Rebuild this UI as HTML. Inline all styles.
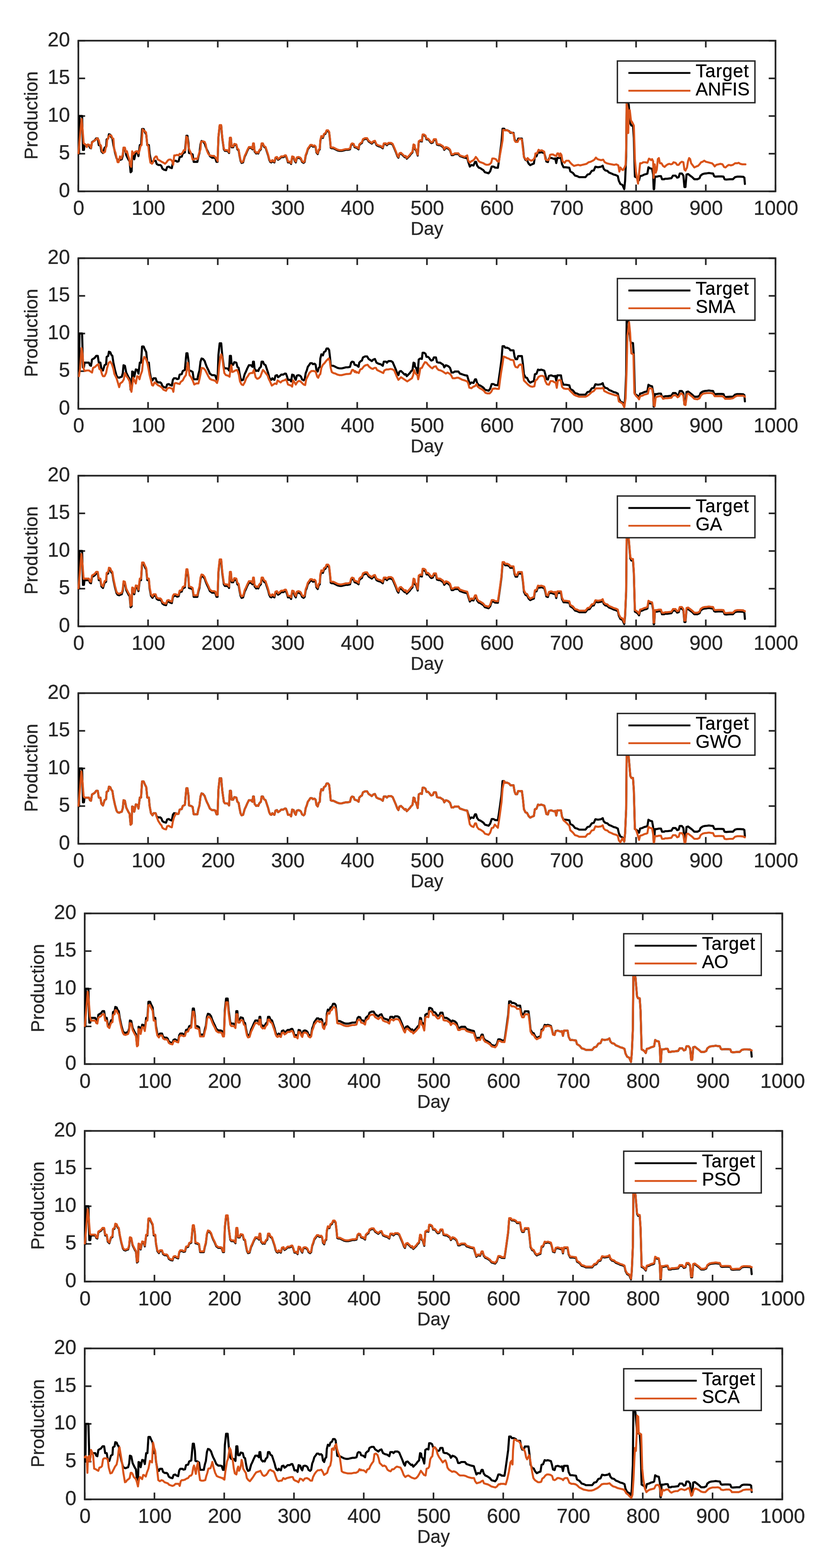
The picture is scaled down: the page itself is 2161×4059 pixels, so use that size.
<!DOCTYPE html><html><head><meta charset="utf-8"><style>html,body{margin:0;padding:0;background:#fff}svg{display:block}text{font-family:"Liberation Sans",Arial,Helvetica,sans-serif;stroke:currentColor;stroke-width:0.45px}</style></head><body>
<svg width="2161" height="4059" viewBox="0 0 2161 4059">
<rect width="2161" height="4059" fill="#fff"/>
<g><path d="M202.8 495.3V477.8M202.8 105.3V122.8M383.2 495.3V477.8M383.2 105.3V122.8M563.6 495.3V477.8M563.6 105.3V122.8M744.1 495.3V477.8M744.1 105.3V122.8M924.5 495.3V477.8M924.5 105.3V122.8M1104.9 495.3V477.8M1104.9 105.3V122.8M1285.3 495.3V477.8M1285.3 105.3V122.8M1465.7 495.3V477.8M1465.7 105.3V122.8M1646.2 495.3V477.8M1646.2 105.3V122.8M1826.6 495.3V477.8M1826.6 105.3V122.8M2007.0 495.3V477.8M2007.0 105.3V122.8M202.8 495.3H220.3M2007.0 495.3H1989.5M202.8 397.8H220.3M2007.0 397.8H1989.5M202.8 300.3H220.3M2007.0 300.3H1989.5M202.8 202.8H220.3M2007.0 202.8H1989.5M202.8 105.3H220.3M2007.0 105.3H1989.5" stroke="#262626" stroke-width="4.2" fill="none"/><rect x="202.8" y="105.3" width="1804.2" height="390.0" fill="none" stroke="#262626" stroke-width="4.4"/><path d="M204.6 397.8L205.7 300.3L212.5 300.3L214.7 388.1L217.2 388.1L218.8 375.8L230.1 375.8L232.8 382.5L235.5 383.9L238.2 367.7L244.9 363.6L249.0 358.2L253.0 358.2L255.7 375.8L259.8 375.8L262.5 392.0L266.5 396.1L270.6 382.5L274.6 379.8L276.0 360.9L280.0 358.2L281.9 347.4L285.4 348.8L288.1 355.5L290.8 358.2L293.5 375.8L297.6 394.7L301.6 409.6L304.3 413.6L308.4 415.0L311.1 413.6L315.1 412.3L317.8 402.8L319.7 382.5L323.2 383.9L326.7 401.5L330.0 408.2L332.7 413.6L335.4 417.7L338.0 446.0L340.7 443.3L342.1 398.8L344.8 400.1L347.5 412.3L351.5 393.4L355.6 394.7L358.3 404.2L361.8 375.8L365.0 375.8L367.7 333.9L371.8 333.9L374.5 340.7L378.5 348.8L381.2 375.8L385.3 375.8L387.2 397.4L390.7 416.3L394.7 421.7L397.4 416.3L402.8 416.3L405.5 424.4L409.6 427.1L415.0 427.1L417.7 429.8L420.4 436.6L424.4 439.3L429.8 440.6L432.5 432.5L436.6 431.2L440.6 433.9L444.7 435.2L447.4 420.4L450.1 416.3L455.5 416.3L458.2 418.5L462.2 417.7L464.9 406.9L470.3 405.5L473.0 397.4L478.4 394.7L481.1 365.0L482.4 351.5L485.1 351.5L487.8 370.4L489.2 396.1L494.6 397.4L498.6 400.1L501.3 419.0L505.4 419.0L510.8 419.0L513.5 405.5L516.2 396.1L518.9 373.1L521.6 365.0L525.6 366.3L529.7 371.7L532.4 379.8L535.1 386.6L539.1 394.7L543.2 404.2L548.6 408.2L554.0 408.2L557.7 409.6L558.0 412.3L560.4 419.0L562.1 416.3L563.1 419.0L565.3 355.5L568.5 325.8L572.5 325.8L575.2 356.9L579.3 386.6L582.0 390.6L587.4 390.6L590.1 392.0L592.8 396.1L594.9 358.2L597.6 358.2L599.5 381.2L603.6 381.2L606.3 374.4L611.7 375.8L614.4 386.6L617.6 389.3L619.8 402.8L622.5 416.3L625.2 421.7L629.2 420.4L633.3 405.5L636.0 400.1L640.0 390.6L644.1 382.5L649.5 382.5L653.5 386.6L654.9 373.1L657.0 373.1L658.9 392.0L663.0 397.4L665.7 396.1L668.4 397.4L671.1 390.6L675.1 386.6L677.0 373.1L680.5 373.1L683.2 379.8L687.3 382.5L691.3 394.7L694.0 402.8L696.7 413.6L699.4 419.0L702.1 420.4L704.8 416.3L707.5 419.0L710.2 420.4L712.9 409.6L716.9 408.2L719.6 413.6L723.7 410.9L727.7 406.9L733.1 406.9L737.2 404.2L739.9 404.2L742.6 410.9L745.3 420.4L750.7 420.4L753.4 424.4L756.1 406.9L760.1 408.2L762.8 416.3L765.5 420.4L768.2 409.6L772.3 408.2L776.3 409.6L779.0 412.3L781.7 419.0L785.8 421.7L788.5 419.0L791.2 402.8L793.9 396.1L796.6 386.6L800.6 381.2L803.3 377.1L807.4 377.1L810.1 379.8L814.1 378.5L816.8 381.2L819.0 394.7L822.2 398.8L824.9 389.3L827.6 386.6L829.0 365.0L831.7 354.2L835.7 356.9L838.4 348.8L842.4 346.1L845.1 339.3L849.2 339.3L851.9 343.4L854.1 362.3L855.9 382.5L858.6 383.9L862.7 383.9L868.1 386.6L873.5 389.3L878.9 390.6L884.3 390.6L889.7 389.3L895.1 387.9L900.5 387.9L905.9 386.6L908.6 375.8L911.3 373.1L915.3 374.4L917.7 381.2L918.0 381.2L922.1 382.5L923.1 382.5L928.0 386.6L929.8 375.8L933.9 371.7L936.6 370.4L939.3 362.3L944.7 359.6L950.1 359.6L954.1 366.3L958.2 369.0L962.2 371.7L966.3 367.7L970.3 366.3L974.4 375.8L979.8 378.5L985.2 379.8L990.6 383.9L993.3 373.1L998.7 373.1L1001.4 375.8L1005.4 371.7L1012.2 371.7L1016.2 374.4L1020.3 383.9L1024.3 393.4L1028.4 404.2L1031.1 408.2L1033.8 398.8L1037.8 397.4L1041.9 401.5L1044.6 404.2L1047.3 406.9L1050.0 405.5L1052.7 410.9L1055.4 408.2L1060.7 402.8L1063.4 398.8L1067.5 394.7L1070.2 375.8L1072.9 377.1L1074.2 386.6L1076.9 389.3L1081.0 402.8L1083.7 367.7L1087.7 365.0L1091.8 366.3L1093.7 350.1L1097.2 350.1L1101.2 352.8L1103.9 360.9L1108.0 360.9L1110.7 363.6L1113.4 367.7L1116.1 370.4L1120.1 369.0L1122.8 362.3L1128.2 362.3L1130.9 374.4L1135.0 375.8L1139.0 375.8L1143.1 378.5L1147.1 381.2L1149.8 387.9L1153.9 382.5L1157.9 383.9L1160.6 385.2L1164.7 389.3L1168.7 401.5L1172.8 401.5L1176.8 398.8L1182.2 398.8L1186.3 398.8L1190.3 404.2L1194.4 405.5L1198.4 406.9L1202.4 408.2L1209.2 409.6L1211.9 419.0L1215.9 431.2L1220.0 427.1L1225.4 428.5L1229.4 419.0L1232.1 419.0L1234.8 428.5L1238.9 433.9L1242.9 435.2L1247.0 437.9L1251.0 440.6L1255.1 446.0L1260.5 447.4L1264.5 448.7L1268.6 443.3L1272.6 431.2L1276.7 431.2L1280.4 433.0L1280.7 433.9L1288.5 434.3L1291.2 416.8L1293.9 397.9L1297.9 368.2L1300.6 333.1L1304.7 333.1L1307.4 337.1L1312.8 337.1L1318.2 339.8L1320.9 343.9L1329.0 343.9L1331.7 360.1L1334.4 366.8L1338.4 366.8L1341.1 358.7L1350.6 358.7L1353.3 379.0L1356.0 406.0L1360.0 414.1L1364.1 415.4L1368.1 423.5L1372.2 427.6L1377.6 424.9L1381.6 423.5L1384.3 406.0L1388.4 404.6L1392.4 393.8L1396.5 395.2L1400.5 393.8L1404.6 395.2L1408.6 396.5L1411.3 406.0L1414.0 418.1L1418.0 419.5L1420.7 410.0L1426.1 408.7L1430.2 410.0L1434.2 411.4L1436.9 410.0L1439.6 422.2L1442.3 408.7L1446.4 408.7L1451.8 408.7L1454.5 424.9L1458.5 433.0L1463.9 433.0L1473.4 434.3L1476.1 443.8L1482.8 447.8L1488.2 454.6L1493.6 455.9L1499.0 458.6L1507.1 458.6L1515.2 458.6L1520.6 451.9L1526.0 450.5L1531.4 442.4L1536.8 441.1L1540.9 431.6L1547.6 433.0L1555.7 431.6L1559.8 428.9L1562.4 437.0L1566.5 441.1L1571.9 442.4L1575.9 446.5L1582.7 449.2L1588.1 451.9L1593.5 453.2L1598.9 455.9L1601.6 468.1L1605.6 476.2L1611.0 478.9L1615.6 489.7L1617.8 468.1L1620.5 406.0L1621.8 262.9L1624.5 261.5L1627.2 271.0L1631.3 319.6L1634.0 325.0L1635.0 325.0L1638.0 325.0L1638.2 325.0L1640.4 357.4L1643.1 457.3L1645.8 458.6L1649.8 461.3L1653.9 466.7L1656.6 455.9L1662.0 454.6L1667.4 451.9L1672.8 450.5L1675.5 449.2L1678.2 433.0L1682.2 435.7L1687.6 437.0L1690.3 451.9L1691.7 489.7L1693.0 489.7L1694.9 457.3L1699.8 457.3L1705.2 455.9L1710.6 455.9L1713.3 464.0L1718.7 464.0L1721.4 462.7L1726.8 462.7L1737.6 461.3L1741.6 454.6L1748.4 454.6L1752.4 460.0L1756.5 458.6L1759.2 449.2L1764.6 449.2L1768.6 454.6L1771.3 484.3L1774.0 484.3L1776.7 451.9L1780.7 450.5L1786.1 454.6L1791.5 458.6L1796.9 464.0L1805.0 464.0L1810.4 461.3L1813.1 454.6L1818.5 450.5L1823.9 449.2L1829.3 448.7L1834.7 447.8L1840.1 448.7L1845.5 449.2L1848.2 455.9L1850.9 457.3L1859.0 456.8L1867.1 456.8L1872.5 457.3L1875.2 464.0L1879.3 464.9L1888.7 464.0L1896.8 464.0L1902.2 458.6L1907.6 457.3L1915.7 457.3L1923.8 457.8L1926.5 460.0L1927.8 476.2" stroke="#000" stroke-width="5.4" fill="none" stroke-linejoin="round" stroke-linecap="round"/><path d="M203.1 396.9L207.1 351.0L211.2 307.8L213.9 337.5L216.6 371.2L219.3 372.6L222.0 375.3L224.7 380.7L227.4 373.9L231.4 375.3L235.5 383.4L238.2 368.5L242.2 365.8L247.6 361.8L251.7 357.7L255.7 363.1L258.4 375.3L261.1 376.6L263.8 391.5L267.9 395.5L271.9 392.8L273.3 383.4L276.0 378.0L277.3 363.1L281.4 353.7L284.1 349.6L288.1 351.0L290.8 357.7L293.5 359.1L295.4 386.1L298.9 395.5L301.6 407.7L304.3 419.8L307.0 419.8L310.5 405.0L313.8 410.4L317.8 399.6L319.7 382.0L323.2 382.0L325.9 394.2L328.6 391.5L331.3 402.3L334.0 410.4L336.7 426.5L339.4 431.9L342.1 391.5L344.8 399.6L347.5 395.5L350.2 392.8L352.9 391.5L355.6 391.5L358.3 396.9L361.0 390.1L363.7 378.0L366.4 375.3L369.1 334.8L371.8 337.5L375.3 340.2L378.0 342.9L381.2 375.3L383.9 378.0L386.6 405.0L389.3 421.1L393.4 423.8L396.1 419.8L398.8 410.4L402.8 405.0L405.5 405.0L408.2 413.0L413.6 415.7L417.7 418.4L423.1 421.1L427.1 423.8L431.2 419.8L433.9 415.7L437.9 413.0L442.0 413.0L445.5 417.1L448.2 426.5L450.9 402.3L454.1 402.3L458.2 400.9L462.2 402.3L464.9 398.2L469.0 399.6L473.0 394.2L475.7 388.8L479.8 388.8L482.4 353.7L485.1 356.4L487.8 380.7L490.5 388.8L493.2 394.2L495.9 402.3L498.6 413.0L501.3 413.0L505.4 410.4L510.8 411.7L514.8 398.2L518.9 386.1L520.2 367.2L524.3 365.8L529.7 367.2L532.4 373.9L535.1 388.8L539.1 398.2L543.2 402.3L548.6 403.6L554.0 403.6L558.0 407.7L562.1 414.4L563.1 417.1L565.3 353.6L568.5 323.9L572.5 323.9L575.2 354.9L579.3 384.6L582.0 388.7L587.4 388.7L590.1 390.0L592.8 394.1L594.9 356.3L597.6 356.3L599.5 379.2L603.6 379.2L606.3 372.5L611.7 373.8L614.4 384.6L617.6 387.3L619.8 400.9L622.5 414.4L625.2 419.8L629.2 418.4L633.3 403.6L636.0 398.2L640.0 388.7L644.1 380.6L649.5 380.6L653.5 384.6L654.9 371.1L657.0 371.1L658.9 390.0L663.0 395.5L665.7 394.1L668.4 395.5L671.1 388.7L675.1 384.6L677.0 371.1L680.5 371.1L683.2 377.9L687.3 380.6L691.3 392.8L694.0 400.9L696.7 411.7L699.4 417.1L702.1 418.4L704.8 414.4L707.5 417.1L710.2 418.4L712.9 407.6L716.9 406.3L719.6 411.7L723.7 409.0L727.7 404.9L733.1 404.9L737.2 402.2L739.9 402.2L742.6 409.0L745.3 418.4L750.7 418.4L753.4 422.5L756.1 404.9L760.1 406.3L762.8 414.4L765.5 418.4L768.2 407.6L772.3 406.3L776.3 407.6L779.0 410.3L781.7 417.1L785.8 419.8L788.5 417.1L791.2 400.9L793.9 394.1L796.6 384.6L800.6 379.2L803.3 375.2L807.4 375.2L810.1 377.9L814.1 376.5L816.8 379.2L819.0 392.8L822.2 396.8L824.9 387.3L827.6 384.6L829.0 363.0L831.7 352.2L835.7 354.9L838.4 346.8L842.4 344.1L845.1 337.4L849.2 337.4L851.9 341.4L854.1 360.3L855.9 380.6L858.6 381.9L862.7 381.9L868.1 384.6L873.5 387.3L878.9 388.7L884.3 388.7L889.7 387.3L895.1 386.0L900.5 386.0L905.9 384.6L908.6 373.8L911.3 371.1L915.3 372.5L917.7 379.2L918.0 379.2L922.1 380.6L923.1 380.6L928.0 384.6L929.8 373.8L933.9 369.8L936.6 368.4L939.3 360.3L944.7 357.6L950.1 357.6L954.1 364.4L958.2 367.1L962.2 369.8L966.3 365.7L970.3 364.4L974.4 373.8L979.8 376.5L985.2 377.9L990.6 381.9L993.3 371.1L998.7 371.1L1001.4 373.8L1005.4 369.8L1012.2 369.8L1016.2 372.5L1020.3 381.9L1024.3 391.4L1028.4 402.2L1031.1 406.3L1033.8 396.8L1037.8 395.5L1041.9 399.5L1044.6 402.2L1047.3 404.9L1050.0 403.6L1052.7 409.0L1055.4 406.3L1060.7 400.9L1063.4 396.8L1067.5 392.8L1070.2 373.8L1072.9 375.2L1074.2 384.6L1076.9 387.3L1081.0 400.9L1083.7 365.7L1087.7 363.0L1091.8 364.4L1093.7 348.2L1097.2 348.2L1101.2 350.9L1103.9 359.0L1108.0 359.0L1110.7 361.7L1113.4 365.7L1116.1 368.4L1120.1 367.1L1122.8 360.3L1128.2 360.3L1130.9 372.5L1135.0 373.8L1139.0 373.8L1143.1 376.5L1147.1 379.2L1149.8 386.0L1153.9 380.6L1157.9 381.9L1160.6 383.3L1164.7 387.3L1168.7 399.5L1172.8 399.5L1176.8 396.8L1182.2 396.8L1186.3 396.8L1190.3 402.2L1194.4 403.6L1198.4 404.9L1202.4 406.3L1209.2 402.3L1211.9 415.7L1215.9 421.1L1220.0 417.1L1224.0 415.7L1228.1 411.7L1231.3 406.3L1234.8 410.4L1238.9 417.1L1242.9 419.8L1247.0 421.1L1251.0 422.5L1255.1 425.2L1259.1 426.5L1263.2 426.5L1267.2 425.2L1271.3 421.1L1274.0 410.4L1278.0 410.4L1279.0 410.6L1282.1 411.7L1283.1 411.9L1287.1 417.3L1291.2 418.7L1293.9 401.1L1297.9 379.6L1300.6 363.4L1302.0 336.4L1304.7 336.4L1307.4 337.7L1311.4 336.4L1315.5 339.1L1319.5 341.8L1324.9 343.1L1329.0 345.8L1331.7 363.4L1334.4 367.4L1339.8 367.4L1342.5 360.7L1345.2 359.3L1350.6 360.7L1353.3 385.0L1356.0 406.5L1360.0 411.9L1362.7 414.6L1365.4 409.2L1369.5 413.3L1374.9 416.0L1380.3 413.3L1384.3 407.9L1385.7 397.1L1389.7 397.1L1393.8 387.7L1397.8 390.4L1401.9 389.0L1404.6 390.4L1408.6 393.0L1411.3 411.9L1415.4 414.6L1419.4 414.6L1422.1 409.2L1423.4 401.1L1427.5 399.8L1431.5 399.8L1435.6 402.5L1439.6 403.8L1442.3 397.1L1445.0 397.1L1447.7 405.2L1450.4 397.1L1453.1 401.1L1455.8 417.3L1461.2 421.4L1465.3 416.0L1472.0 416.0L1476.1 421.4L1480.1 425.4L1485.5 429.5L1490.9 428.1L1496.3 426.8L1501.7 428.1L1507.1 426.8L1512.5 425.4L1517.9 424.1L1523.3 420.0L1528.7 418.7L1534.1 416.0L1538.2 413.3L1542.2 407.9L1546.3 411.9L1550.3 413.3L1555.7 414.6L1561.1 413.3L1565.1 420.0L1570.5 422.7L1575.9 424.1L1582.7 425.4L1589.4 426.8L1594.8 425.4L1600.2 428.1L1602.9 444.3L1605.6 433.5L1609.7 438.9L1612.4 440.3L1616.4 433.5L1619.1 426.8L1620.5 385.0L1621.8 268.9L1624.5 282.4L1625.9 344.5L1627.2 290.5L1629.9 285.1L1632.6 309.4L1635.0 317.5L1635.3 314.8L1639.4 322.9L1640.4 325.6L1643.1 411.9L1645.8 444.3L1648.5 460.5L1651.2 475.4L1653.9 449.7L1656.6 422.7L1660.6 422.7L1664.7 420.0L1670.1 420.0L1675.5 421.4L1679.5 410.6L1682.2 411.9L1684.9 414.6L1687.6 411.9L1690.3 417.3L1691.7 460.5L1694.4 425.4L1697.1 447.0L1699.8 438.9L1702.5 411.9L1705.2 409.2L1707.9 422.7L1711.9 422.7L1716.0 429.5L1720.0 432.2L1724.1 428.1L1728.1 425.4L1732.2 424.1L1736.2 425.4L1740.3 424.1L1743.0 420.0L1748.4 421.4L1752.4 426.8L1756.5 426.8L1760.5 421.4L1764.6 418.7L1768.6 420.0L1771.3 438.9L1774.0 441.6L1778.0 433.5L1780.7 417.3L1783.4 409.2L1786.1 411.9L1788.8 422.7L1792.9 428.1L1796.9 433.5L1802.3 430.8L1806.4 429.5L1810.4 425.4L1814.5 420.0L1818.5 418.7L1822.6 416.0L1826.6 418.7L1832.0 420.0L1837.4 421.4L1842.8 422.7L1846.9 426.8L1849.6 430.8L1853.6 426.8L1859.0 425.4L1864.4 424.1L1869.8 425.4L1873.9 432.2L1877.9 433.5L1882.0 429.5L1886.0 426.8L1891.4 428.1L1896.8 426.8L1902.2 422.7L1907.6 422.7L1911.7 421.4L1915.7 424.1L1921.1 425.4L1929.2 425.4" stroke="#D95319" stroke-width="5.2" fill="none" stroke-linejoin="round" stroke-linecap="round"/><text x="203.8" y="556.3" font-size="52" fill="#262626" color="#262626" text-anchor="middle">0</text><text x="384.2" y="556.3" font-size="52" fill="#262626" color="#262626" text-anchor="middle">100</text><text x="564.6" y="556.3" font-size="52" fill="#262626" color="#262626" text-anchor="middle">200</text><text x="745.1" y="556.3" font-size="52" fill="#262626" color="#262626" text-anchor="middle">300</text><text x="925.5" y="556.3" font-size="52" fill="#262626" color="#262626" text-anchor="middle">400</text><text x="1105.9" y="556.3" font-size="52" fill="#262626" color="#262626" text-anchor="middle">500</text><text x="1286.3" y="556.3" font-size="52" fill="#262626" color="#262626" text-anchor="middle">600</text><text x="1466.7" y="556.3" font-size="52" fill="#262626" color="#262626" text-anchor="middle">700</text><text x="1647.2" y="556.3" font-size="52" fill="#262626" color="#262626" text-anchor="middle">800</text><text x="1827.6" y="556.3" font-size="52" fill="#262626" color="#262626" text-anchor="middle">900</text><text x="2008.0" y="556.3" font-size="52" fill="#262626" color="#262626" text-anchor="middle">1000</text><text x="181.2" y="509.6" font-size="52" fill="#262626" color="#262626" text-anchor="end">0</text><text x="181.2" y="412.1" font-size="52" fill="#262626" color="#262626" text-anchor="end">5</text><text x="181.2" y="314.6" font-size="52" fill="#262626" color="#262626" text-anchor="end">10</text><text x="181.2" y="217.1" font-size="52" fill="#262626" color="#262626" text-anchor="end">15</text><text x="181.2" y="119.6" font-size="52" fill="#262626" color="#262626" text-anchor="end">20</text><text x="1104.9" y="608.3" font-size="47.5" fill="#262626" color="#262626" text-anchor="middle">Day</text><text transform="translate(97.3 298.8) rotate(-90)" font-size="47.8" fill="#262626" color="#262626" text-anchor="middle">Production</text><rect x="1597.8" y="157.9" width="356" height="108" fill="#fff" stroke="#262626" stroke-width="3.6"/><path d="M1626.3 188.9H1786.8" stroke="#000" stroke-width="4.8"/><path d="M1626.3 234.9H1786.8" stroke="#D95319" stroke-width="4.6"/><text x="1800.3" y="200.2" font-size="47.5" letter-spacing="1.1" fill="#000" color="#000">Target</text><text x="1800.3" y="246.9" font-size="47.5" fill="#000" color="#000">ANFIS</text></g>
<g><path d="M202.8 1058.2V1040.7M202.8 668.4V685.9M383.2 1058.2V1040.7M383.2 668.4V685.9M563.6 1058.2V1040.7M563.6 668.4V685.9M744.1 1058.2V1040.7M744.1 668.4V685.9M924.5 1058.2V1040.7M924.5 668.4V685.9M1104.9 1058.2V1040.7M1104.9 668.4V685.9M1285.3 1058.2V1040.7M1285.3 668.4V685.9M1465.7 1058.2V1040.7M1465.7 668.4V685.9M1646.2 1058.2V1040.7M1646.2 668.4V685.9M1826.6 1058.2V1040.7M1826.6 668.4V685.9M2007.0 1058.2V1040.7M2007.0 668.4V685.9M202.8 1058.2H220.3M2007.0 1058.2H1989.5M202.8 960.8H220.3M2007.0 960.8H1989.5M202.8 863.3H220.3M2007.0 863.3H1989.5M202.8 765.9H220.3M2007.0 765.9H1989.5M202.8 668.4H220.3M2007.0 668.4H1989.5" stroke="#262626" stroke-width="4.2" fill="none"/><rect x="202.8" y="668.4" width="1804.2" height="389.8" fill="none" stroke="#262626" stroke-width="4.4"/><path d="M204.6 960.8L205.7 863.3L212.5 863.3L214.7 951.0L217.2 951.0L218.8 938.8L230.1 938.8L232.8 945.5L235.5 946.9L238.2 930.7L244.9 926.6L249.0 921.2L253.0 921.2L255.7 938.8L259.8 938.8L262.5 955.0L266.5 959.0L270.6 945.5L274.6 942.8L276.0 923.9L280.0 921.2L281.9 910.4L285.4 911.8L288.1 918.5L290.8 921.2L293.5 938.8L297.6 957.7L301.6 972.5L304.3 976.5L308.4 977.9L311.1 976.5L315.1 975.2L317.8 965.7L319.7 945.5L323.2 946.9L326.7 964.4L330.0 971.1L332.7 976.5L335.4 980.6L338.0 1008.9L340.7 1006.2L342.1 961.7L344.8 963.0L347.5 975.2L351.5 956.3L355.6 957.7L358.3 967.1L361.8 938.8L365.0 938.8L367.7 896.9L371.8 896.9L374.5 903.7L378.5 911.8L381.2 938.8L385.3 938.8L387.2 960.4L390.7 979.2L394.7 984.6L397.4 979.2L402.8 979.2L405.5 987.3L409.6 990.0L415.0 990.0L417.7 992.7L420.4 999.5L424.4 1002.2L429.8 1003.5L432.5 995.4L436.6 994.1L440.6 996.8L444.7 998.1L447.4 983.3L450.1 979.2L455.5 979.2L458.2 981.4L462.2 980.6L464.9 969.8L470.3 968.4L473.0 960.4L478.4 957.7L481.1 928.0L482.4 914.5L485.1 914.5L487.8 933.4L489.2 959.0L494.6 960.4L498.6 963.0L501.3 981.9L505.4 981.9L510.8 981.9L513.5 968.4L516.2 959.0L518.9 936.1L521.6 928.0L525.6 929.3L529.7 934.7L532.4 942.8L535.1 949.6L539.1 957.7L543.2 967.1L548.6 971.1L554.0 971.1L557.7 972.5L558.0 975.2L560.4 981.9L562.1 979.2L563.1 981.9L565.3 918.5L568.5 888.8L572.5 888.8L575.2 919.9L579.3 949.6L582.0 953.6L587.4 953.6L590.1 955.0L592.8 959.0L594.9 921.2L597.6 921.2L599.5 944.2L603.6 944.2L606.3 937.4L611.7 938.8L614.4 949.6L617.6 952.3L619.8 965.7L622.5 979.2L625.2 984.6L629.2 983.3L633.3 968.4L636.0 963.0L640.0 953.6L644.1 945.5L649.5 945.5L653.5 949.6L654.9 936.1L657.0 936.1L658.9 955.0L663.0 960.4L665.7 959.0L668.4 960.4L671.1 953.6L675.1 949.6L677.0 936.1L680.5 936.1L683.2 942.8L687.3 945.5L691.3 957.7L694.0 965.7L696.7 976.5L699.4 981.9L702.1 983.3L704.8 979.2L707.5 981.9L710.2 983.3L712.9 972.5L716.9 971.1L719.6 976.5L723.7 973.8L727.7 969.8L733.1 969.8L737.2 967.1L739.9 967.1L742.6 973.8L745.3 983.3L750.7 983.3L753.4 987.3L756.1 969.8L760.1 971.1L762.8 979.2L765.5 983.3L768.2 972.5L772.3 971.1L776.3 972.5L779.0 975.2L781.7 981.9L785.8 984.6L788.5 981.9L791.2 965.7L793.9 959.0L796.6 949.6L800.6 944.2L803.3 940.1L807.4 940.1L810.1 942.8L814.1 941.5L816.8 944.2L819.0 957.7L822.2 961.7L824.9 952.3L827.6 949.6L829.0 928.0L831.7 917.2L835.7 919.9L838.4 911.8L842.4 909.1L845.1 902.3L849.2 902.3L851.9 906.4L854.1 925.3L855.9 945.5L858.6 946.9L862.7 946.9L868.1 949.6L873.5 952.3L878.9 953.6L884.3 953.6L889.7 952.3L895.1 950.9L900.5 950.9L905.9 949.6L908.6 938.8L911.3 936.1L915.3 937.4L917.7 944.2L918.0 944.2L922.1 945.5L923.1 945.5L928.0 949.6L929.8 938.8L933.9 934.7L936.6 933.4L939.3 925.3L944.7 922.6L950.1 922.6L954.1 929.3L958.2 932.0L962.2 934.7L966.3 930.7L970.3 929.3L974.4 938.8L979.8 941.5L985.2 942.8L990.6 946.9L993.3 936.1L998.7 936.1L1001.4 938.8L1005.4 934.7L1012.2 934.7L1016.2 937.4L1020.3 946.9L1024.3 956.3L1028.4 967.1L1031.1 971.1L1033.8 961.7L1037.8 960.4L1041.9 964.4L1044.6 967.1L1047.3 969.8L1050.0 968.4L1052.7 973.8L1055.4 971.1L1060.7 965.7L1063.4 961.7L1067.5 957.7L1070.2 938.8L1072.9 940.1L1074.2 949.6L1076.9 952.3L1081.0 965.7L1083.7 930.7L1087.7 928.0L1091.8 929.3L1093.7 913.1L1097.2 913.1L1101.2 915.8L1103.9 923.9L1108.0 923.9L1110.7 926.6L1113.4 930.7L1116.1 933.4L1120.1 932.0L1122.8 925.3L1128.2 925.3L1130.9 937.4L1135.0 938.8L1139.0 938.8L1143.1 941.5L1147.1 944.2L1149.8 950.9L1153.9 945.5L1157.9 946.9L1160.6 948.2L1164.7 952.3L1168.7 964.4L1172.8 964.4L1176.8 961.7L1182.2 961.7L1186.3 961.7L1190.3 967.1L1194.4 968.4L1198.4 969.8L1202.4 971.1L1209.2 972.5L1211.9 981.9L1215.9 994.1L1220.0 990.0L1225.4 991.4L1229.4 981.9L1232.1 981.9L1234.8 991.4L1238.9 996.8L1242.9 998.1L1247.0 1000.8L1251.0 1003.5L1255.1 1008.9L1260.5 1010.3L1264.5 1011.6L1268.6 1006.2L1272.6 994.1L1276.7 994.1L1280.4 995.9L1280.7 996.8L1288.5 997.3L1291.2 979.7L1293.9 960.8L1297.9 931.1L1300.6 896.1L1304.7 896.1L1307.4 900.1L1312.8 900.1L1318.2 902.8L1320.9 906.9L1329.0 906.9L1331.7 923.0L1334.4 929.8L1338.4 929.8L1341.1 921.7L1350.6 921.7L1353.3 941.9L1356.0 968.9L1360.0 977.0L1364.1 978.4L1368.1 986.5L1372.2 990.5L1377.6 987.8L1381.6 986.5L1384.3 968.9L1388.4 967.6L1392.4 956.8L1396.5 958.1L1400.5 956.8L1404.6 958.1L1408.6 959.5L1411.3 968.9L1414.0 981.1L1418.0 982.4L1420.7 973.0L1426.1 971.6L1430.2 973.0L1434.2 974.3L1436.9 973.0L1439.6 985.1L1442.3 971.6L1446.4 971.6L1451.8 971.6L1454.5 987.8L1458.5 995.9L1463.9 995.9L1473.4 997.3L1476.1 1006.7L1482.8 1010.8L1488.2 1017.5L1493.6 1018.9L1499.0 1021.6L1507.1 1021.6L1515.2 1021.6L1520.6 1014.8L1526.0 1013.5L1531.4 1005.4L1536.8 1004.0L1540.9 994.6L1547.6 995.9L1555.7 994.6L1559.8 991.9L1562.4 1000.0L1566.5 1004.0L1571.9 1005.4L1575.9 1009.4L1582.7 1012.1L1588.1 1014.8L1593.5 1016.2L1598.9 1018.9L1601.6 1031.0L1605.6 1039.1L1611.0 1041.8L1615.6 1052.6L1617.8 1031.0L1620.5 968.9L1621.8 825.9L1624.5 824.5L1627.2 834.0L1631.3 882.6L1634.0 888.0L1635.0 888.0L1638.0 888.0L1638.2 888.0L1640.4 920.4L1643.1 1020.2L1645.8 1021.6L1649.8 1024.3L1653.9 1029.7L1656.6 1018.9L1662.0 1017.5L1667.4 1014.8L1672.8 1013.5L1675.5 1012.1L1678.2 995.9L1682.2 998.6L1687.6 1000.0L1690.3 1014.8L1691.7 1052.6L1693.0 1052.6L1694.9 1020.2L1699.8 1020.2L1705.2 1018.9L1710.6 1018.9L1713.3 1027.0L1718.7 1027.0L1721.4 1025.6L1726.8 1025.6L1737.6 1024.3L1741.6 1017.5L1748.4 1017.5L1752.4 1022.9L1756.5 1021.6L1759.2 1012.1L1764.6 1012.1L1768.6 1017.5L1771.3 1047.2L1774.0 1047.2L1776.7 1014.8L1780.7 1013.5L1786.1 1017.5L1791.5 1021.6L1796.9 1027.0L1805.0 1027.0L1810.4 1024.3L1813.1 1017.5L1818.5 1013.5L1823.9 1012.1L1829.3 1011.6L1834.7 1010.8L1840.1 1011.6L1845.5 1012.1L1848.2 1018.9L1850.9 1020.2L1859.0 1019.7L1867.1 1019.7L1872.5 1020.2L1875.2 1027.0L1879.3 1027.8L1888.7 1027.0L1896.8 1027.0L1902.2 1021.6L1907.6 1020.2L1915.7 1020.2L1923.8 1020.8L1926.5 1022.9L1927.8 1039.1" stroke="#000" stroke-width="5.4" fill="none" stroke-linejoin="round" stroke-linecap="round"/><path d="M204.4 973.8L207.1 955.0L211.2 901.0L213.9 919.9L216.6 955.0L219.3 960.4L224.7 959.0L230.1 959.0L234.1 961.7L238.2 964.4L240.9 952.3L246.3 949.6L250.3 945.5L254.4 942.8L257.1 955.0L261.1 957.7L263.8 968.4L266.5 973.8L270.6 973.8L274.6 965.7L277.3 952.3L281.4 938.8L285.4 936.1L289.5 942.8L293.5 955.0L296.2 968.4L301.6 979.2L305.7 992.7L308.4 1002.2L311.1 992.7L316.5 988.7L320.5 981.9L323.2 965.7L327.3 973.8L331.3 979.2L335.4 987.3L338.0 1006.2L340.2 1014.3L342.9 992.7L344.8 977.9L347.5 984.6L351.5 992.7L354.8 973.8L358.3 975.2L361.0 981.9L363.7 971.1L367.7 960.4L370.4 933.4L373.1 923.9L377.2 928.0L381.2 938.8L383.9 952.3L387.2 971.1L390.7 984.6L393.4 996.8L396.1 998.1L400.1 990.0L404.2 992.7L408.2 996.8L413.6 999.5L419.0 1003.5L423.1 1008.9L429.8 1011.6L432.5 1006.2L437.9 1003.5L442.0 1004.9L446.0 1006.2L448.7 1014.3L451.4 992.7L455.5 991.4L459.5 992.7L464.9 994.1L467.6 988.7L473.0 984.6L477.1 976.5L481.1 971.1L483.8 955.0L486.0 938.8L487.8 949.6L490.5 971.1L494.6 976.5L498.6 984.6L502.7 995.4L508.1 992.7L513.5 992.7L516.2 981.9L518.9 968.4L521.6 952.3L527.0 953.6L531.0 957.7L535.1 965.7L539.1 973.8L543.2 980.6L548.6 983.3L554.0 984.6L559.0 987.3L559.4 988.7L561.7 991.4L564.4 981.9L567.1 949.6L569.8 928.0L572.5 917.2L575.2 925.3L577.9 946.9L580.6 965.7L584.7 971.1L590.1 972.5L594.1 975.2L596.8 952.3L598.7 945.5L600.9 963.0L604.9 961.7L609.0 959.0L613.0 957.7L615.7 961.7L618.4 971.1L621.1 987.3L625.2 995.4L629.2 996.8L633.3 990.0L637.3 979.2L641.4 973.8L645.4 967.1L649.5 965.7L653.5 965.7L657.0 957.7L658.9 965.7L661.6 976.5L665.7 980.6L669.7 979.2L673.8 975.2L677.8 964.4L680.5 957.7L684.6 961.7L688.6 967.1L692.7 972.5L695.4 980.6L699.4 988.7L703.4 998.1L707.5 995.4L711.5 992.7L715.6 994.1L718.3 984.6L722.3 987.3L726.4 990.0L730.4 986.0L735.8 984.6L739.9 981.9L742.6 987.3L745.3 995.4L749.3 996.8L753.4 998.1L756.1 1000.8L758.8 984.6L761.5 988.7L765.5 995.4L769.6 988.7L773.6 986.0L777.7 987.3L781.7 991.4L785.8 995.4L789.8 996.8L792.5 981.9L796.6 973.8L800.6 965.7L806.0 960.4L811.4 960.4L816.8 961.7L820.9 975.2L823.6 977.9L826.3 971.1L829.0 968.4L831.7 952.3L835.7 944.2L839.8 940.1L843.8 934.7L847.8 930.7L850.5 928.0L853.2 933.4L855.9 952.3L858.6 963.0L862.7 965.7L868.1 967.1L873.5 969.8L878.9 971.1L884.3 971.1L889.7 969.8L895.1 968.4L903.2 967.9L907.2 967.1L911.3 957.7L914.0 957.7L918.0 963.0L919.0 960.4L922.1 964.4L923.1 963.0L928.5 965.7L932.5 956.3L936.6 955.0L942.0 948.2L946.0 945.5L951.4 944.2L955.5 949.6L960.9 953.6L964.9 955.0L969.0 952.3L973.0 952.3L975.7 957.7L981.1 960.4L986.5 963.0L991.9 965.7L994.6 959.0L1000.0 956.3L1005.4 956.3L1010.8 955.0L1016.2 956.3L1020.3 959.0L1024.3 968.4L1027.0 975.2L1031.1 983.3L1035.1 979.2L1037.8 976.5L1041.9 979.2L1045.9 981.9L1050.0 984.6L1054.0 987.3L1058.0 984.6L1062.1 981.9L1066.1 979.2L1069.4 971.1L1071.5 957.7L1074.2 964.4L1076.9 968.4L1080.2 971.1L1082.3 981.9L1085.0 969.8L1087.7 953.6L1091.8 952.3L1095.8 944.2L1099.9 937.4L1103.9 938.8L1106.6 942.8L1110.7 946.9L1114.7 950.9L1118.8 953.6L1122.8 949.6L1128.2 948.2L1130.9 953.6L1135.0 957.7L1140.4 959.0L1145.8 961.7L1149.8 964.4L1153.9 967.1L1157.9 964.4L1163.3 967.1L1167.4 971.1L1171.4 979.2L1176.8 979.2L1182.2 977.9L1186.3 977.9L1191.7 980.6L1197.1 983.3L1202.4 984.6L1209.2 987.3L1211.9 992.7L1214.6 1003.5L1220.0 1004.9L1225.4 1000.8L1229.4 999.5L1233.5 994.1L1236.2 1000.8L1241.6 1004.9L1247.0 1007.6L1252.4 1011.6L1256.4 1017.0L1261.8 1018.4L1267.2 1018.4L1271.3 1014.3L1275.3 1006.2L1279.4 1006.2L1280.4 1005.4L1287.1 1006.7L1291.2 1006.7L1293.9 985.1L1296.6 966.2L1300.6 941.9L1303.3 923.0L1307.4 924.4L1312.8 927.1L1316.8 928.4L1320.9 931.1L1329.0 932.5L1331.7 944.6L1334.4 950.0L1339.8 951.4L1342.5 946.0L1346.5 943.3L1350.6 944.6L1353.3 966.2L1356.0 985.1L1361.4 990.5L1366.8 995.9L1372.2 1000.0L1377.6 1001.3L1383.0 1000.0L1385.7 985.1L1389.7 982.4L1393.8 975.7L1399.2 973.0L1404.6 973.0L1408.6 975.7L1411.3 986.5L1415.4 994.6L1420.7 995.9L1424.8 986.5L1430.2 986.5L1434.2 989.2L1438.3 990.5L1441.0 1004.0L1443.7 985.1L1447.7 983.8L1451.8 985.1L1454.5 1001.3L1458.5 1005.4L1463.9 1006.7L1472.0 1006.7L1474.7 1010.8L1480.1 1016.2L1485.5 1021.6L1490.9 1024.3L1499.0 1027.0L1507.1 1027.0L1515.2 1027.0L1520.6 1024.3L1526.0 1020.2L1531.4 1014.8L1536.8 1012.1L1542.2 1005.4L1547.6 1005.4L1555.7 1005.4L1561.1 1004.0L1563.8 1012.1L1569.2 1014.8L1574.6 1017.5L1582.7 1020.2L1590.8 1022.9L1598.9 1024.3L1601.6 1039.1L1607.0 1041.8L1611.0 1044.5L1615.6 1054.0L1619.1 1031.0L1621.8 955.4L1623.7 869.1L1625.9 852.9L1628.0 834.0L1630.7 861.0L1632.6 896.1L1634.0 915.0L1635.0 915.0L1639.0 917.7L1639.4 917.7L1641.7 1017.5L1645.8 1024.3L1649.8 1028.3L1653.9 1033.7L1656.6 1025.6L1662.0 1024.3L1667.4 1021.6L1672.8 1020.2L1676.8 1018.9L1679.5 1005.4L1683.6 1005.4L1687.6 1006.7L1690.3 1022.9L1692.2 1049.9L1694.4 1051.3L1697.1 1028.3L1701.1 1027.0L1706.5 1025.6L1711.9 1025.6L1716.0 1032.4L1721.4 1031.0L1726.8 1031.0L1737.6 1029.7L1741.6 1024.3L1748.4 1022.9L1753.8 1028.3L1757.8 1025.6L1760.5 1018.9L1764.6 1018.9L1768.6 1024.3L1771.3 1047.2L1774.0 1048.6L1778.0 1020.2L1782.1 1018.9L1786.1 1022.9L1791.5 1027.0L1796.9 1032.4L1805.0 1033.7L1810.4 1031.0L1814.5 1022.9L1819.9 1018.9L1829.3 1017.5L1840.1 1017.5L1845.5 1018.9L1849.6 1025.6L1859.0 1025.6L1867.1 1025.6L1872.5 1027.0L1876.6 1032.4L1888.7 1032.4L1896.8 1031.0L1902.2 1027.0L1907.6 1024.3L1915.7 1024.3L1923.8 1024.3L1927.8 1027.0" stroke="#D95319" stroke-width="5.2" fill="none" stroke-linejoin="round" stroke-linecap="round"/><text x="203.8" y="1119.2" font-size="52" fill="#262626" color="#262626" text-anchor="middle">0</text><text x="384.2" y="1119.2" font-size="52" fill="#262626" color="#262626" text-anchor="middle">100</text><text x="564.6" y="1119.2" font-size="52" fill="#262626" color="#262626" text-anchor="middle">200</text><text x="745.1" y="1119.2" font-size="52" fill="#262626" color="#262626" text-anchor="middle">300</text><text x="925.5" y="1119.2" font-size="52" fill="#262626" color="#262626" text-anchor="middle">400</text><text x="1105.9" y="1119.2" font-size="52" fill="#262626" color="#262626" text-anchor="middle">500</text><text x="1286.3" y="1119.2" font-size="52" fill="#262626" color="#262626" text-anchor="middle">600</text><text x="1466.7" y="1119.2" font-size="52" fill="#262626" color="#262626" text-anchor="middle">700</text><text x="1647.2" y="1119.2" font-size="52" fill="#262626" color="#262626" text-anchor="middle">800</text><text x="1827.6" y="1119.2" font-size="52" fill="#262626" color="#262626" text-anchor="middle">900</text><text x="2008.0" y="1119.2" font-size="52" fill="#262626" color="#262626" text-anchor="middle">1000</text><text x="181.2" y="1072.5" font-size="52" fill="#262626" color="#262626" text-anchor="end">0</text><text x="181.2" y="975.0" font-size="52" fill="#262626" color="#262626" text-anchor="end">5</text><text x="181.2" y="877.6" font-size="52" fill="#262626" color="#262626" text-anchor="end">10</text><text x="181.2" y="780.1" font-size="52" fill="#262626" color="#262626" text-anchor="end">15</text><text x="181.2" y="682.7" font-size="52" fill="#262626" color="#262626" text-anchor="end">20</text><text x="1104.9" y="1171.2" font-size="47.5" fill="#262626" color="#262626" text-anchor="middle">Day</text><text transform="translate(97.3 861.8) rotate(-90)" font-size="47.8" fill="#262626" color="#262626" text-anchor="middle">Production</text><rect x="1597.8" y="721.0" width="356" height="108" fill="#fff" stroke="#262626" stroke-width="3.6"/><path d="M1626.3 752.0H1786.8" stroke="#000" stroke-width="4.8"/><path d="M1626.3 798.0H1786.8" stroke="#D95319" stroke-width="4.6"/><text x="1800.3" y="763.3" font-size="47.5" letter-spacing="1.1" fill="#000" color="#000">Target</text><text x="1800.3" y="810.0" font-size="47.5" fill="#000" color="#000">SMA</text></g>
<g><path d="M202.8 1621.3V1603.8M202.8 1231.4V1248.9M383.2 1621.3V1603.8M383.2 1231.4V1248.9M563.6 1621.3V1603.8M563.6 1231.4V1248.9M744.1 1621.3V1603.8M744.1 1231.4V1248.9M924.5 1621.3V1603.8M924.5 1231.4V1248.9M1104.9 1621.3V1603.8M1104.9 1231.4V1248.9M1285.3 1621.3V1603.8M1285.3 1231.4V1248.9M1465.7 1621.3V1603.8M1465.7 1231.4V1248.9M1646.2 1621.3V1603.8M1646.2 1231.4V1248.9M1826.6 1621.3V1603.8M1826.6 1231.4V1248.9M2007.0 1621.3V1603.8M2007.0 1231.4V1248.9M202.8 1621.3H220.3M2007.0 1621.3H1989.5M202.8 1523.8H220.3M2007.0 1523.8H1989.5M202.8 1426.3H220.3M2007.0 1426.3H1989.5M202.8 1328.9H220.3M2007.0 1328.9H1989.5M202.8 1231.4H220.3M2007.0 1231.4H1989.5" stroke="#262626" stroke-width="4.2" fill="none"/><rect x="202.8" y="1231.4" width="1804.2" height="389.9" fill="none" stroke="#262626" stroke-width="4.4"/><path d="M204.6 1523.8L205.7 1426.3L212.5 1426.3L214.7 1514.1L217.2 1514.1L218.8 1501.8L230.1 1501.8L232.8 1508.6L235.5 1509.9L238.2 1493.7L244.9 1489.7L249.0 1484.3L253.0 1484.3L255.7 1501.8L259.8 1501.8L262.5 1518.0L266.5 1522.1L270.6 1508.6L274.6 1505.9L276.0 1487.0L280.0 1484.3L281.9 1473.5L285.4 1474.8L288.1 1481.6L290.8 1484.3L293.5 1501.8L297.6 1520.7L301.6 1535.6L304.3 1539.6L308.4 1541.0L311.1 1539.6L315.1 1538.3L317.8 1528.8L319.7 1508.6L323.2 1509.9L326.7 1527.5L330.0 1534.2L332.7 1539.6L335.4 1543.7L338.0 1572.0L340.7 1569.3L342.1 1524.8L344.8 1526.1L347.5 1538.3L351.5 1519.4L355.6 1520.7L358.3 1530.2L361.8 1501.8L365.0 1501.8L367.7 1460.0L371.8 1460.0L374.5 1466.7L378.5 1474.8L381.2 1501.8L385.3 1501.8L387.2 1523.4L390.7 1542.3L394.7 1547.7L397.4 1542.3L402.8 1542.3L405.5 1550.4L409.6 1553.1L415.0 1553.1L417.7 1555.8L420.4 1562.6L424.4 1565.3L429.8 1566.6L432.5 1558.5L436.6 1557.2L440.6 1559.9L444.7 1561.2L447.4 1546.4L450.1 1542.3L455.5 1542.3L458.2 1544.5L462.2 1543.7L464.9 1532.9L470.3 1531.5L473.0 1523.4L478.4 1520.7L481.1 1491.0L482.4 1477.5L485.1 1477.5L487.8 1496.4L489.2 1522.1L494.6 1523.4L498.6 1526.1L501.3 1545.0L505.4 1545.0L510.8 1545.0L513.5 1531.5L516.2 1522.1L518.9 1499.1L521.6 1491.0L525.6 1492.4L529.7 1497.8L532.4 1505.9L535.1 1512.6L539.1 1520.7L543.2 1530.2L548.6 1534.2L554.0 1534.2L557.7 1535.6L558.0 1538.3L560.4 1545.0L562.1 1542.3L563.1 1545.0L565.3 1481.6L568.5 1451.9L572.5 1451.9L575.2 1482.9L579.3 1512.6L582.0 1516.7L587.4 1516.7L590.1 1518.0L592.8 1522.1L594.9 1484.3L597.6 1484.3L599.5 1507.2L603.6 1507.2L606.3 1500.5L611.7 1501.8L614.4 1512.6L617.6 1515.3L619.8 1528.8L622.5 1542.3L625.2 1547.7L629.2 1546.4L633.3 1531.5L636.0 1526.1L640.0 1516.7L644.1 1508.6L649.5 1508.6L653.5 1512.6L654.9 1499.1L657.0 1499.1L658.9 1518.0L663.0 1523.4L665.7 1522.1L668.4 1523.4L671.1 1516.7L675.1 1512.6L677.0 1499.1L680.5 1499.1L683.2 1505.9L687.3 1508.6L691.3 1520.7L694.0 1528.8L696.7 1539.6L699.4 1545.0L702.1 1546.4L704.8 1542.3L707.5 1545.0L710.2 1546.4L712.9 1535.6L716.9 1534.2L719.6 1539.6L723.7 1536.9L727.7 1532.9L733.1 1532.9L737.2 1530.2L739.9 1530.2L742.6 1536.9L745.3 1546.4L750.7 1546.4L753.4 1550.4L756.1 1532.9L760.1 1534.2L762.8 1542.3L765.5 1546.4L768.2 1535.6L772.3 1534.2L776.3 1535.6L779.0 1538.3L781.7 1545.0L785.8 1547.7L788.5 1545.0L791.2 1528.8L793.9 1522.1L796.6 1512.6L800.6 1507.2L803.3 1503.2L807.4 1503.2L810.1 1505.9L814.1 1504.5L816.8 1507.2L819.0 1520.7L822.2 1524.8L824.9 1515.3L827.6 1512.6L829.0 1491.0L831.7 1480.2L835.7 1482.9L838.4 1474.8L842.4 1472.1L845.1 1465.4L849.2 1465.4L851.9 1469.4L854.1 1488.3L855.9 1508.6L858.6 1509.9L862.7 1509.9L868.1 1512.6L873.5 1515.3L878.9 1516.7L884.3 1516.7L889.7 1515.3L895.1 1514.0L900.5 1514.0L905.9 1512.6L908.6 1501.8L911.3 1499.1L915.3 1500.5L917.7 1507.2L918.0 1507.2L922.1 1508.6L923.1 1508.6L928.0 1512.6L929.8 1501.8L933.9 1497.8L936.6 1496.4L939.3 1488.3L944.7 1485.6L950.1 1485.6L954.1 1492.4L958.2 1495.1L962.2 1497.8L966.3 1493.7L970.3 1492.4L974.4 1501.8L979.8 1504.5L985.2 1505.9L990.6 1509.9L993.3 1499.1L998.7 1499.1L1001.4 1501.8L1005.4 1497.8L1012.2 1497.8L1016.2 1500.5L1020.3 1509.9L1024.3 1519.4L1028.4 1530.2L1031.1 1534.2L1033.8 1524.8L1037.8 1523.4L1041.9 1527.5L1044.6 1530.2L1047.3 1532.9L1050.0 1531.5L1052.7 1536.9L1055.4 1534.2L1060.7 1528.8L1063.4 1524.8L1067.5 1520.7L1070.2 1501.8L1072.9 1503.2L1074.2 1512.6L1076.9 1515.3L1081.0 1528.8L1083.7 1493.7L1087.7 1491.0L1091.8 1492.4L1093.7 1476.2L1097.2 1476.2L1101.2 1478.9L1103.9 1487.0L1108.0 1487.0L1110.7 1489.7L1113.4 1493.7L1116.1 1496.4L1120.1 1495.1L1122.8 1488.3L1128.2 1488.3L1130.9 1500.5L1135.0 1501.8L1139.0 1501.8L1143.1 1504.5L1147.1 1507.2L1149.8 1514.0L1153.9 1508.6L1157.9 1509.9L1160.6 1511.3L1164.7 1515.3L1168.7 1527.5L1172.8 1527.5L1176.8 1524.8L1182.2 1524.8L1186.3 1524.8L1190.3 1530.2L1194.4 1531.5L1198.4 1532.9L1202.4 1534.2L1209.2 1535.6L1211.9 1545.0L1215.9 1557.2L1220.0 1553.1L1225.4 1554.5L1229.4 1545.0L1232.1 1545.0L1234.8 1554.5L1238.9 1559.9L1242.9 1561.2L1247.0 1563.9L1251.0 1566.6L1255.1 1572.0L1260.5 1573.4L1264.5 1574.7L1268.6 1569.3L1272.6 1557.2L1276.7 1557.2L1280.4 1559.0L1280.7 1559.9L1288.5 1560.4L1291.2 1542.8L1293.9 1523.9L1297.9 1494.2L1300.6 1459.1L1304.7 1459.1L1307.4 1463.2L1312.8 1463.2L1318.2 1465.9L1320.9 1469.9L1329.0 1469.9L1331.7 1486.1L1334.4 1492.9L1338.4 1492.9L1341.1 1484.8L1350.6 1484.8L1353.3 1505.0L1356.0 1532.0L1360.0 1540.1L1364.1 1541.5L1368.1 1549.6L1372.2 1553.6L1377.6 1550.9L1381.6 1549.6L1384.3 1532.0L1388.4 1530.7L1392.4 1519.9L1396.5 1521.2L1400.5 1519.9L1404.6 1521.2L1408.6 1522.6L1411.3 1532.0L1414.0 1544.2L1418.0 1545.5L1420.7 1536.1L1426.1 1534.7L1430.2 1536.1L1434.2 1537.4L1436.9 1536.1L1439.6 1548.2L1442.3 1534.7L1446.4 1534.7L1451.8 1534.7L1454.5 1550.9L1458.5 1559.0L1463.9 1559.0L1473.4 1560.4L1476.1 1569.8L1482.8 1573.9L1488.2 1580.6L1493.6 1582.0L1499.0 1584.7L1507.1 1584.7L1515.2 1584.7L1520.6 1577.9L1526.0 1576.6L1531.4 1568.5L1536.8 1567.1L1540.9 1557.7L1547.6 1559.0L1555.7 1557.7L1559.8 1555.0L1562.4 1563.1L1566.5 1567.1L1571.9 1568.5L1575.9 1572.5L1582.7 1575.2L1588.1 1577.9L1593.5 1579.3L1598.9 1582.0L1601.6 1594.1L1605.6 1602.2L1611.0 1604.9L1615.6 1615.7L1617.8 1594.1L1620.5 1532.0L1621.8 1388.9L1624.5 1387.6L1627.2 1397.0L1631.3 1445.6L1634.0 1451.0L1635.0 1451.0L1638.0 1451.0L1638.2 1451.0L1640.4 1483.4L1643.1 1583.3L1645.8 1584.7L1649.8 1587.4L1653.9 1592.8L1656.6 1582.0L1662.0 1580.6L1667.4 1577.9L1672.8 1576.6L1675.5 1575.2L1678.2 1559.0L1682.2 1561.7L1687.6 1563.1L1690.3 1577.9L1691.7 1615.7L1693.0 1615.7L1694.9 1583.3L1699.8 1583.3L1705.2 1582.0L1710.6 1582.0L1713.3 1590.1L1718.7 1590.1L1721.4 1588.7L1726.8 1588.7L1737.6 1587.4L1741.6 1580.6L1748.4 1580.6L1752.4 1586.0L1756.5 1584.7L1759.2 1575.2L1764.6 1575.2L1768.6 1580.6L1771.3 1610.3L1774.0 1610.3L1776.7 1577.9L1780.7 1576.6L1786.1 1580.6L1791.5 1584.7L1796.9 1590.1L1805.0 1590.1L1810.4 1587.4L1813.1 1580.6L1818.5 1576.6L1823.9 1575.2L1829.3 1574.7L1834.7 1573.9L1840.1 1574.7L1845.5 1575.2L1848.2 1582.0L1850.9 1583.3L1859.0 1582.8L1867.1 1582.8L1872.5 1583.3L1875.2 1590.1L1879.3 1590.9L1888.7 1590.1L1896.8 1590.1L1902.2 1584.7L1907.6 1583.3L1915.7 1583.3L1923.8 1583.8L1926.5 1586.0L1927.8 1602.2" stroke="#000" stroke-width="5.4" fill="none" stroke-linejoin="round" stroke-linecap="round"/><path d="M203.2 1522.9L207.1 1477.0L210.6 1434.1L213.8 1463.4L216.5 1498.5L218.8 1497.9L230.1 1497.9L232.8 1504.7L235.5 1506.0L238.2 1489.8L244.9 1485.8L249.0 1480.4L253.0 1480.4L255.7 1497.9L259.8 1497.9L262.5 1514.1L266.5 1518.2L270.6 1504.7L274.6 1502.0L276.0 1483.1L280.0 1480.4L281.9 1469.6L285.4 1470.9L288.1 1477.7L290.8 1480.4L293.5 1497.9L297.6 1516.8L301.6 1531.7L304.3 1535.7L308.4 1537.1L311.1 1535.7L315.1 1534.4L317.8 1524.9L319.7 1504.7L323.2 1506.0L326.7 1523.6L330.0 1530.3L332.7 1535.7L335.4 1539.8L338.0 1568.1L340.7 1565.4L342.1 1520.9L344.8 1522.2L347.5 1534.4L351.5 1515.5L355.6 1516.8L358.3 1526.3L361.8 1497.9L365.0 1497.9L367.7 1456.1L371.8 1456.1L374.5 1462.8L378.5 1470.9L381.2 1497.9L385.3 1497.9L387.2 1519.5L390.7 1538.4L394.7 1543.8L397.4 1538.4L402.8 1538.4L405.5 1546.5L409.6 1549.2L415.0 1549.2L417.7 1551.9L420.4 1558.7L424.4 1561.4L429.8 1562.7L432.5 1554.6L436.6 1553.3L440.6 1556.0L444.7 1557.3L447.4 1542.5L450.1 1538.4L455.5 1538.4L458.2 1540.6L462.2 1539.8L464.9 1529.0L470.3 1527.6L473.0 1519.5L478.4 1516.8L481.1 1487.1L482.4 1473.6L485.1 1473.6L487.8 1492.5L489.2 1518.2L494.6 1519.5L498.6 1522.2L501.3 1541.1L505.4 1541.1L510.8 1541.1L513.5 1527.6L516.2 1518.2L518.9 1495.2L521.6 1487.1L525.6 1488.5L529.7 1493.9L532.4 1502.0L535.1 1508.7L539.1 1516.8L543.2 1526.3L548.6 1530.3L554.0 1530.3L557.7 1531.7L558.0 1534.4L560.4 1541.1L562.1 1538.4L563.1 1541.1L565.3 1477.7L568.5 1448.0L572.5 1448.0L575.2 1479.0L579.3 1508.7L582.0 1512.8L587.4 1512.8L590.1 1514.1L592.8 1518.2L594.9 1480.4L597.6 1480.4L599.5 1503.3L603.6 1503.3L606.3 1496.6L611.7 1497.9L614.4 1508.7L617.6 1511.4L619.8 1524.9L622.5 1538.4L625.2 1543.8L629.2 1542.5L633.3 1527.6L636.0 1522.2L640.0 1512.8L644.1 1504.7L649.5 1504.7L653.5 1508.7L654.9 1495.2L657.0 1495.2L658.9 1514.1L663.0 1519.5L665.7 1518.2L668.4 1519.5L671.1 1512.8L675.1 1508.7L677.0 1495.2L680.5 1495.2L683.2 1502.0L687.3 1504.7L691.3 1516.8L694.0 1524.9L696.7 1535.7L699.4 1541.1L702.1 1542.5L704.8 1538.4L707.5 1541.1L710.2 1542.5L712.9 1531.7L716.9 1530.3L719.6 1535.7L723.7 1533.0L727.7 1529.0L733.1 1529.0L737.2 1526.3L739.9 1526.3L742.6 1533.0L745.3 1542.5L750.7 1542.5L753.4 1546.5L756.1 1529.0L760.1 1530.3L762.8 1538.4L765.5 1542.5L768.2 1531.7L772.3 1530.3L776.3 1531.7L779.0 1534.4L781.7 1541.1L785.8 1543.8L788.5 1541.1L791.2 1524.9L793.9 1518.2L796.6 1508.7L800.6 1503.3L803.3 1499.3L807.4 1499.3L810.1 1502.0L814.1 1500.6L816.8 1503.3L819.0 1516.8L822.2 1520.9L824.9 1511.4L827.6 1508.7L829.0 1487.1L831.7 1476.3L835.7 1479.0L838.4 1470.9L842.4 1468.2L845.1 1461.5L849.2 1461.5L851.9 1465.5L854.1 1484.4L855.9 1504.7L858.6 1506.0L862.7 1506.0L868.1 1508.7L873.5 1511.4L878.9 1512.8L884.3 1512.8L889.7 1511.4L895.1 1510.1L900.5 1510.1L905.9 1508.7L908.6 1497.9L911.3 1495.2L915.3 1496.6L917.7 1503.3L918.0 1503.3L922.1 1504.7L923.1 1504.7L928.0 1508.7L929.8 1497.9L933.9 1493.9L936.6 1492.5L939.3 1484.4L944.7 1481.7L950.1 1481.7L954.1 1488.5L958.2 1491.2L962.2 1493.9L966.3 1489.8L970.3 1488.5L974.4 1497.9L979.8 1500.6L985.2 1502.0L990.6 1506.0L993.3 1495.2L998.7 1495.2L1001.4 1497.9L1005.4 1493.9L1012.2 1493.9L1016.2 1496.6L1020.3 1506.0L1024.3 1515.5L1028.4 1526.3L1031.1 1530.3L1033.8 1520.9L1037.8 1519.5L1041.9 1523.6L1044.6 1526.3L1047.3 1529.0L1050.0 1527.6L1052.7 1533.0L1055.4 1530.3L1060.7 1524.9L1063.4 1520.9L1067.5 1516.8L1070.2 1497.9L1072.9 1499.3L1074.2 1508.7L1076.9 1511.4L1081.0 1524.9L1083.7 1489.8L1087.7 1487.1L1091.8 1488.5L1093.7 1472.3L1097.2 1472.3L1101.2 1475.0L1103.9 1483.1L1108.0 1483.1L1110.7 1485.8L1113.4 1489.8L1116.1 1492.5L1120.1 1491.2L1122.8 1484.4L1128.2 1484.4L1130.9 1496.6L1135.0 1497.9L1139.0 1497.9L1143.1 1500.6L1147.1 1503.3L1149.8 1510.1L1153.9 1504.7L1157.9 1506.0L1160.6 1507.4L1164.7 1511.4L1168.7 1523.6L1172.8 1523.6L1176.8 1520.9L1182.2 1520.9L1186.3 1520.9L1190.3 1526.3L1194.4 1527.6L1198.4 1529.0L1202.4 1530.3L1209.2 1531.7L1211.9 1541.1L1215.9 1553.3L1220.0 1549.2L1225.4 1550.6L1229.4 1541.1L1232.1 1541.1L1234.8 1550.6L1238.9 1556.0L1242.9 1557.3L1247.0 1560.0L1251.0 1562.7L1255.1 1568.1L1260.5 1569.5L1264.5 1570.8L1268.6 1565.4L1272.6 1553.3L1276.7 1553.3L1280.4 1555.1L1280.7 1556.0L1288.5 1556.5L1291.2 1538.9L1293.9 1520.0L1297.9 1490.3L1300.6 1455.2L1304.7 1455.2L1307.4 1459.3L1312.8 1459.3L1318.2 1462.0L1320.9 1466.0L1329.0 1466.0L1331.7 1482.2L1334.4 1489.0L1338.4 1489.0L1341.1 1480.9L1350.6 1480.9L1353.3 1501.1L1356.0 1528.1L1360.0 1536.2L1364.1 1537.6L1368.1 1545.7L1372.2 1549.7L1377.6 1547.0L1381.6 1545.7L1384.3 1528.1L1388.4 1526.8L1392.4 1516.0L1396.5 1517.3L1400.5 1516.0L1404.6 1517.3L1408.6 1518.7L1411.3 1528.1L1414.0 1540.3L1418.0 1541.6L1420.7 1532.2L1426.1 1530.8L1430.2 1532.2L1434.2 1533.5L1436.9 1532.2L1439.6 1544.3L1442.3 1530.8L1446.4 1530.8L1451.8 1530.8L1454.5 1547.0L1458.5 1555.1L1463.9 1555.1L1473.4 1556.5L1476.1 1565.9L1482.8 1570.0L1488.2 1576.7L1493.6 1578.1L1499.0 1580.8L1507.1 1580.8L1515.2 1580.8L1520.6 1574.0L1526.0 1572.7L1531.4 1564.6L1536.8 1563.2L1540.9 1553.8L1547.6 1555.1L1555.7 1553.8L1559.8 1551.1L1562.4 1559.2L1566.5 1563.2L1571.9 1564.6L1575.9 1568.6L1582.7 1571.3L1588.1 1574.0L1593.5 1575.4L1598.9 1578.1L1601.6 1590.2L1605.6 1598.3L1611.0 1601.0L1615.6 1611.8L1617.8 1590.2L1620.5 1528.1L1621.8 1385.0L1624.5 1383.7L1627.2 1393.1L1631.3 1441.7L1634.0 1447.1L1635.0 1447.1L1638.0 1447.1L1638.2 1447.1L1640.4 1479.5L1643.1 1579.4L1645.8 1580.8L1649.8 1583.5L1653.9 1588.9L1656.6 1578.1L1662.0 1576.7L1667.4 1574.0L1672.8 1572.7L1675.5 1571.3L1678.2 1555.1L1682.2 1557.8L1687.6 1559.2L1690.3 1574.0L1691.7 1611.8L1693.0 1611.8L1694.9 1579.4L1699.8 1579.4L1705.2 1578.1L1710.6 1578.1L1713.3 1586.2L1718.7 1586.2L1721.4 1584.8L1726.8 1584.8L1737.6 1583.5L1741.6 1576.7L1748.4 1576.7L1752.4 1582.1L1756.5 1580.8L1759.2 1571.3L1764.6 1571.3L1768.6 1576.7L1771.3 1606.4L1774.0 1606.4L1776.7 1574.0L1780.7 1572.7L1786.1 1576.7L1791.5 1580.8L1796.9 1586.2L1805.0 1586.2L1810.4 1583.5L1813.1 1576.7L1818.5 1572.7L1823.9 1571.3L1829.3 1570.8L1834.7 1570.0L1840.1 1570.8L1845.5 1571.3L1848.2 1578.1L1850.9 1579.4L1859.0 1578.9L1867.1 1578.9L1872.5 1579.4L1875.2 1586.2L1879.3 1587.0L1888.7 1586.2L1896.8 1586.2L1902.2 1580.8L1907.6 1579.4L1915.7 1579.4L1923.8 1579.9L1926.5 1582.1L1927.8 1582.1" stroke="#D95319" stroke-width="5.2" fill="none" stroke-linejoin="round" stroke-linecap="round"/><text x="203.8" y="1682.3" font-size="52" fill="#262626" color="#262626" text-anchor="middle">0</text><text x="384.2" y="1682.3" font-size="52" fill="#262626" color="#262626" text-anchor="middle">100</text><text x="564.6" y="1682.3" font-size="52" fill="#262626" color="#262626" text-anchor="middle">200</text><text x="745.1" y="1682.3" font-size="52" fill="#262626" color="#262626" text-anchor="middle">300</text><text x="925.5" y="1682.3" font-size="52" fill="#262626" color="#262626" text-anchor="middle">400</text><text x="1105.9" y="1682.3" font-size="52" fill="#262626" color="#262626" text-anchor="middle">500</text><text x="1286.3" y="1682.3" font-size="52" fill="#262626" color="#262626" text-anchor="middle">600</text><text x="1466.7" y="1682.3" font-size="52" fill="#262626" color="#262626" text-anchor="middle">700</text><text x="1647.2" y="1682.3" font-size="52" fill="#262626" color="#262626" text-anchor="middle">800</text><text x="1827.6" y="1682.3" font-size="52" fill="#262626" color="#262626" text-anchor="middle">900</text><text x="2008.0" y="1682.3" font-size="52" fill="#262626" color="#262626" text-anchor="middle">1000</text><text x="181.2" y="1635.6" font-size="52" fill="#262626" color="#262626" text-anchor="end">0</text><text x="181.2" y="1538.1" font-size="52" fill="#262626" color="#262626" text-anchor="end">5</text><text x="181.2" y="1440.6" font-size="52" fill="#262626" color="#262626" text-anchor="end">10</text><text x="181.2" y="1343.2" font-size="52" fill="#262626" color="#262626" text-anchor="end">15</text><text x="181.2" y="1245.7" font-size="52" fill="#262626" color="#262626" text-anchor="end">20</text><text x="1104.9" y="1734.3" font-size="47.5" fill="#262626" color="#262626" text-anchor="middle">Day</text><text transform="translate(97.3 1424.8) rotate(-90)" font-size="47.8" fill="#262626" color="#262626" text-anchor="middle">Production</text><rect x="1597.8" y="1284.0" width="356" height="108" fill="#fff" stroke="#262626" stroke-width="3.6"/><path d="M1626.3 1315.0H1786.8" stroke="#000" stroke-width="4.8"/><path d="M1626.3 1361.0H1786.8" stroke="#D95319" stroke-width="4.6"/><text x="1800.3" y="1326.3" font-size="47.5" letter-spacing="1.1" fill="#000" color="#000">Target</text><text x="1800.3" y="1373.0" font-size="47.5" fill="#000" color="#000">GA</text></g>
<g><path d="M202.8 2184.2V2166.7M202.8 1794.3V1811.8M383.2 2184.2V2166.7M383.2 1794.3V1811.8M563.6 2184.2V2166.7M563.6 1794.3V1811.8M744.1 2184.2V2166.7M744.1 1794.3V1811.8M924.5 2184.2V2166.7M924.5 1794.3V1811.8M1104.9 2184.2V2166.7M1104.9 1794.3V1811.8M1285.3 2184.2V2166.7M1285.3 1794.3V1811.8M1465.7 2184.2V2166.7M1465.7 1794.3V1811.8M1646.2 2184.2V2166.7M1646.2 1794.3V1811.8M1826.6 2184.2V2166.7M1826.6 1794.3V1811.8M2007.0 2184.2V2166.7M2007.0 1794.3V1811.8M202.8 2184.2H220.3M2007.0 2184.2H1989.5M202.8 2086.7H220.3M2007.0 2086.7H1989.5M202.8 1989.2H220.3M2007.0 1989.2H1989.5M202.8 1891.8H220.3M2007.0 1891.8H1989.5M202.8 1794.3H220.3M2007.0 1794.3H1989.5" stroke="#262626" stroke-width="4.2" fill="none"/><rect x="202.8" y="1794.3" width="1804.2" height="389.9" fill="none" stroke="#262626" stroke-width="4.4"/><path d="M204.6 2086.7L205.7 1989.2L212.5 1989.2L214.7 2077.0L217.2 2077.0L218.8 2064.7L230.1 2064.7L232.8 2071.5L235.5 2072.8L238.2 2056.6L244.9 2052.6L249.0 2047.2L253.0 2047.2L255.7 2064.7L259.8 2064.7L262.5 2080.9L266.5 2085.0L270.6 2071.5L274.6 2068.8L276.0 2049.9L280.0 2047.2L281.9 2036.4L285.4 2037.7L288.1 2044.5L290.8 2047.2L293.5 2064.7L297.6 2083.6L301.6 2098.5L304.3 2102.5L308.4 2103.9L311.1 2102.5L315.1 2101.2L317.8 2091.7L319.7 2071.5L323.2 2072.8L326.7 2090.4L330.0 2097.1L332.7 2102.5L335.4 2106.6L338.0 2134.9L340.7 2132.2L342.1 2087.7L344.8 2089.0L347.5 2101.2L351.5 2082.3L355.6 2083.6L358.3 2093.1L361.8 2064.7L365.0 2064.7L367.7 2022.9L371.8 2022.9L374.5 2029.6L378.5 2037.7L381.2 2064.7L385.3 2064.7L387.2 2086.3L390.7 2105.2L394.7 2110.6L397.4 2105.2L402.8 2105.2L405.5 2113.3L409.6 2116.0L415.0 2116.0L417.7 2118.7L420.4 2125.5L424.4 2128.2L429.8 2129.5L432.5 2121.4L436.6 2120.1L440.6 2122.8L444.7 2124.1L447.4 2109.3L450.1 2105.2L455.5 2105.2L458.2 2107.4L462.2 2106.6L464.9 2095.8L470.3 2094.4L473.0 2086.3L478.4 2083.6L481.1 2053.9L482.4 2040.4L485.1 2040.4L487.8 2059.3L489.2 2085.0L494.6 2086.3L498.6 2089.0L501.3 2107.9L505.4 2107.9L510.8 2107.9L513.5 2094.4L516.2 2085.0L518.9 2062.0L521.6 2053.9L525.6 2055.3L529.7 2060.7L532.4 2068.8L535.1 2075.5L539.1 2083.6L543.2 2093.1L548.6 2097.1L554.0 2097.1L557.7 2098.5L558.0 2101.2L560.4 2107.9L562.1 2105.2L563.1 2107.9L565.3 2044.5L568.5 2014.8L572.5 2014.8L575.2 2045.8L579.3 2075.5L582.0 2079.6L587.4 2079.6L590.1 2080.9L592.8 2085.0L594.9 2047.2L597.6 2047.2L599.5 2070.1L603.6 2070.1L606.3 2063.4L611.7 2064.7L614.4 2075.5L617.6 2078.2L619.8 2091.7L622.5 2105.2L625.2 2110.6L629.2 2109.3L633.3 2094.4L636.0 2089.0L640.0 2079.6L644.1 2071.5L649.5 2071.5L653.5 2075.5L654.9 2062.0L657.0 2062.0L658.9 2080.9L663.0 2086.3L665.7 2085.0L668.4 2086.3L671.1 2079.6L675.1 2075.5L677.0 2062.0L680.5 2062.0L683.2 2068.8L687.3 2071.5L691.3 2083.6L694.0 2091.7L696.7 2102.5L699.4 2107.9L702.1 2109.3L704.8 2105.2L707.5 2107.9L710.2 2109.3L712.9 2098.5L716.9 2097.1L719.6 2102.5L723.7 2099.8L727.7 2095.8L733.1 2095.8L737.2 2093.1L739.9 2093.1L742.6 2099.8L745.3 2109.3L750.7 2109.3L753.4 2113.3L756.1 2095.8L760.1 2097.1L762.8 2105.2L765.5 2109.3L768.2 2098.5L772.3 2097.1L776.3 2098.5L779.0 2101.2L781.7 2107.9L785.8 2110.6L788.5 2107.9L791.2 2091.7L793.9 2085.0L796.6 2075.5L800.6 2070.1L803.3 2066.1L807.4 2066.1L810.1 2068.8L814.1 2067.4L816.8 2070.1L819.0 2083.6L822.2 2087.7L824.9 2078.2L827.6 2075.5L829.0 2053.9L831.7 2043.1L835.7 2045.8L838.4 2037.7L842.4 2035.0L845.1 2028.3L849.2 2028.3L851.9 2032.3L854.1 2051.2L855.9 2071.5L858.6 2072.8L862.7 2072.8L868.1 2075.5L873.5 2078.2L878.9 2079.6L884.3 2079.6L889.7 2078.2L895.1 2076.9L900.5 2076.9L905.9 2075.5L908.6 2064.7L911.3 2062.0L915.3 2063.4L917.7 2070.1L918.0 2070.1L922.1 2071.5L923.1 2071.5L928.0 2075.5L929.8 2064.7L933.9 2060.7L936.6 2059.3L939.3 2051.2L944.7 2048.5L950.1 2048.5L954.1 2055.3L958.2 2058.0L962.2 2060.7L966.3 2056.6L970.3 2055.3L974.4 2064.7L979.8 2067.4L985.2 2068.8L990.6 2072.8L993.3 2062.0L998.7 2062.0L1001.4 2064.7L1005.4 2060.7L1012.2 2060.7L1016.2 2063.4L1020.3 2072.8L1024.3 2082.3L1028.4 2093.1L1031.1 2097.1L1033.8 2087.7L1037.8 2086.3L1041.9 2090.4L1044.6 2093.1L1047.3 2095.8L1050.0 2094.4L1052.7 2099.8L1055.4 2097.1L1060.7 2091.7L1063.4 2087.7L1067.5 2083.6L1070.2 2064.7L1072.9 2066.1L1074.2 2075.5L1076.9 2078.2L1081.0 2091.7L1083.7 2056.6L1087.7 2053.9L1091.8 2055.3L1093.7 2039.1L1097.2 2039.1L1101.2 2041.8L1103.9 2049.9L1108.0 2049.9L1110.7 2052.6L1113.4 2056.6L1116.1 2059.3L1120.1 2058.0L1122.8 2051.2L1128.2 2051.2L1130.9 2063.4L1135.0 2064.7L1139.0 2064.7L1143.1 2067.4L1147.1 2070.1L1149.8 2076.9L1153.9 2071.5L1157.9 2072.8L1160.6 2074.2L1164.7 2078.2L1168.7 2090.4L1172.8 2090.4L1176.8 2087.7L1182.2 2087.7L1186.3 2087.7L1190.3 2093.1L1194.4 2094.4L1198.4 2095.8L1202.4 2097.1L1209.2 2098.5L1211.9 2107.9L1215.9 2120.1L1220.0 2116.0L1225.4 2117.4L1229.4 2107.9L1232.1 2107.9L1234.8 2117.4L1238.9 2122.8L1242.9 2124.1L1247.0 2126.8L1251.0 2129.5L1255.1 2134.9L1260.5 2136.3L1264.5 2137.6L1268.6 2132.2L1272.6 2120.1L1276.7 2120.1L1280.4 2121.9L1280.7 2122.8L1288.5 2123.3L1291.2 2105.7L1293.9 2086.8L1297.9 2057.1L1300.6 2022.0L1304.7 2022.0L1307.4 2026.1L1312.8 2026.1L1318.2 2028.8L1320.9 2032.8L1329.0 2032.8L1331.7 2049.0L1334.4 2055.8L1338.4 2055.8L1341.1 2047.7L1350.6 2047.7L1353.3 2067.9L1356.0 2094.9L1360.0 2103.0L1364.1 2104.4L1368.1 2112.5L1372.2 2116.5L1377.6 2113.8L1381.6 2112.5L1384.3 2094.9L1388.4 2093.6L1392.4 2082.8L1396.5 2084.1L1400.5 2082.8L1404.6 2084.1L1408.6 2085.5L1411.3 2094.9L1414.0 2107.1L1418.0 2108.4L1420.7 2099.0L1426.1 2097.6L1430.2 2099.0L1434.2 2100.3L1436.9 2099.0L1439.6 2111.1L1442.3 2097.6L1446.4 2097.6L1451.8 2097.6L1454.5 2113.8L1458.5 2121.9L1463.9 2121.9L1473.4 2123.3L1476.1 2132.7L1482.8 2136.8L1488.2 2143.5L1493.6 2144.9L1499.0 2147.6L1507.1 2147.6L1515.2 2147.6L1520.6 2140.8L1526.0 2139.5L1531.4 2131.4L1536.8 2130.0L1540.9 2120.6L1547.6 2121.9L1555.7 2120.6L1559.8 2117.9L1562.4 2126.0L1566.5 2130.0L1571.9 2131.4L1575.9 2135.4L1582.7 2138.1L1588.1 2140.8L1593.5 2142.2L1598.9 2144.9L1601.6 2157.0L1605.6 2165.1L1611.0 2167.8L1615.6 2178.6L1617.8 2157.0L1620.5 2094.9L1621.8 1951.8L1624.5 1950.5L1627.2 1959.9L1631.3 2008.5L1634.0 2013.9L1635.0 2013.9L1638.0 2013.9L1638.2 2013.9L1640.4 2046.3L1643.1 2146.2L1645.8 2147.6L1649.8 2150.3L1653.9 2155.7L1656.6 2144.9L1662.0 2143.5L1667.4 2140.8L1672.8 2139.5L1675.5 2138.1L1678.2 2121.9L1682.2 2124.6L1687.6 2126.0L1690.3 2140.8L1691.7 2178.6L1693.0 2178.6L1694.9 2146.2L1699.8 2146.2L1705.2 2144.9L1710.6 2144.9L1713.3 2153.0L1718.7 2153.0L1721.4 2151.6L1726.8 2151.6L1737.6 2150.3L1741.6 2143.5L1748.4 2143.5L1752.4 2148.9L1756.5 2147.6L1759.2 2138.1L1764.6 2138.1L1768.6 2143.5L1771.3 2173.2L1774.0 2173.2L1776.7 2140.8L1780.7 2139.5L1786.1 2143.5L1791.5 2147.6L1796.9 2153.0L1805.0 2153.0L1810.4 2150.3L1813.1 2143.5L1818.5 2139.5L1823.9 2138.1L1829.3 2137.6L1834.7 2136.8L1840.1 2137.6L1845.5 2138.1L1848.2 2144.9L1850.9 2146.2L1859.0 2145.7L1867.1 2145.7L1872.5 2146.2L1875.2 2153.0L1879.3 2153.8L1888.7 2153.0L1896.8 2153.0L1902.2 2147.6L1907.6 2146.2L1915.7 2146.2L1923.8 2146.7L1926.5 2148.9L1927.8 2165.1" stroke="#000" stroke-width="5.4" fill="none" stroke-linejoin="round" stroke-linecap="round"/><path d="M203.2 2085.8L207.1 2039.9L210.6 1997.0L213.8 2026.3L216.5 2061.4L218.8 2064.7L230.1 2064.7L232.8 2071.5L235.5 2072.8L238.2 2056.6L244.9 2052.6L249.0 2047.2L253.0 2047.2L255.7 2064.7L259.8 2064.7L262.5 2080.9L266.5 2085.0L270.6 2071.5L274.6 2068.8L276.0 2049.9L280.0 2047.2L281.9 2036.4L285.4 2037.7L288.1 2044.5L290.8 2047.2L293.5 2064.7L297.6 2083.6L301.6 2098.5L304.3 2102.5L308.4 2103.9L311.1 2102.5L315.1 2101.2L317.8 2091.7L319.7 2071.5L323.2 2072.8L326.7 2090.4L330.0 2097.1L332.7 2102.5L335.4 2106.6L338.0 2134.9L340.7 2132.2L342.1 2087.7L344.8 2089.0L347.5 2101.2L351.5 2082.3L355.6 2083.6L358.3 2093.1L361.8 2064.7L365.0 2064.7L367.7 2022.9L371.8 2022.9L374.5 2029.6L378.5 2037.7L381.2 2064.7L385.3 2064.7L387.2 2086.3L390.7 2105.2L394.7 2110.6L397.4 2105.2L402.8 2105.2L405.5 2114.6L409.6 2125.2L415.0 2133.6L417.7 2136.3L420.4 2143.0L424.4 2145.7L429.8 2147.1L432.5 2139.0L436.6 2137.6L440.6 2140.3L444.7 2141.7L447.4 2126.8L450.1 2116.6L455.5 2105.2L458.2 2107.4L462.2 2106.6L464.9 2095.8L470.3 2094.4L473.0 2086.3L478.4 2083.6L481.1 2053.9L482.4 2040.4L485.1 2040.4L487.8 2059.3L489.2 2085.0L494.6 2086.3L498.6 2089.0L501.3 2107.9L505.4 2107.9L510.8 2107.9L513.5 2094.4L516.2 2085.0L518.9 2062.0L521.6 2053.9L525.6 2055.3L529.7 2060.7L532.4 2068.8L535.1 2075.5L539.1 2083.6L543.2 2093.1L548.6 2097.1L554.0 2097.1L557.7 2098.5L558.0 2101.2L560.4 2107.9L562.1 2105.2L563.1 2107.9L565.3 2044.5L568.5 2014.8L572.5 2014.8L575.2 2045.8L579.3 2075.5L582.0 2079.6L587.4 2079.6L590.1 2080.9L592.8 2085.0L594.9 2047.2L597.6 2047.2L599.5 2070.1L603.6 2070.1L606.3 2063.4L611.7 2064.7L614.4 2075.5L617.6 2078.2L619.8 2091.7L622.5 2105.2L625.2 2110.6L629.2 2109.3L633.3 2094.4L636.0 2089.0L640.0 2079.6L644.1 2071.5L649.5 2071.5L653.5 2075.5L654.9 2062.0L657.0 2062.0L658.9 2080.9L663.0 2086.3L665.7 2085.0L668.4 2086.3L671.1 2079.6L675.1 2075.5L677.0 2062.0L680.5 2062.0L683.2 2068.8L687.3 2071.5L691.3 2083.6L694.0 2091.7L696.7 2102.5L699.4 2107.9L702.1 2109.3L704.8 2105.2L707.5 2107.9L710.2 2109.3L712.9 2098.5L716.9 2097.1L719.6 2102.5L723.7 2099.8L727.7 2095.8L733.1 2095.8L737.2 2093.1L739.9 2093.1L742.6 2099.8L745.3 2109.3L750.7 2109.3L753.4 2113.3L756.1 2095.8L760.1 2097.1L762.8 2105.2L765.5 2109.3L768.2 2098.5L772.3 2097.1L776.3 2098.5L779.0 2101.2L781.7 2107.9L785.8 2110.6L788.5 2107.9L791.2 2091.7L793.9 2085.0L796.6 2075.5L800.6 2070.1L803.3 2066.1L807.4 2066.1L810.1 2068.8L814.1 2067.4L816.8 2070.1L819.0 2083.6L822.2 2087.7L824.9 2078.2L827.6 2075.5L829.0 2053.9L831.7 2043.1L835.7 2045.8L838.4 2037.7L842.4 2035.0L845.1 2028.3L849.2 2028.3L851.9 2032.3L854.1 2051.2L855.9 2071.5L858.6 2072.8L862.7 2072.8L868.1 2075.5L873.5 2078.2L878.9 2079.6L884.3 2079.6L889.7 2078.2L895.1 2076.9L900.5 2076.9L905.9 2075.5L908.6 2064.7L911.3 2062.0L915.3 2063.4L917.7 2070.1L918.0 2070.1L922.1 2071.5L923.1 2071.5L928.0 2075.5L929.8 2064.7L933.9 2060.7L936.6 2059.3L939.3 2051.2L944.7 2048.5L950.1 2048.5L954.1 2055.3L958.2 2058.0L962.2 2060.7L966.3 2056.6L970.3 2055.3L974.4 2064.7L979.8 2067.4L985.2 2068.8L990.6 2072.8L993.3 2062.0L998.7 2062.0L1001.4 2064.7L1005.4 2060.7L1012.2 2060.7L1016.2 2063.4L1020.3 2072.8L1024.3 2082.3L1028.4 2093.1L1031.1 2097.1L1033.8 2087.7L1037.8 2086.3L1041.9 2090.4L1044.6 2093.1L1047.3 2095.8L1050.0 2094.4L1052.7 2099.8L1055.4 2097.1L1060.7 2091.7L1063.4 2087.7L1067.5 2083.6L1070.2 2064.7L1072.9 2066.1L1074.2 2075.5L1076.9 2078.2L1081.0 2091.7L1083.7 2056.6L1087.7 2053.9L1091.8 2055.3L1093.7 2039.1L1097.2 2039.1L1101.2 2041.8L1103.9 2049.9L1108.0 2049.9L1110.7 2052.6L1113.4 2056.6L1116.1 2059.3L1120.1 2058.0L1122.8 2051.2L1128.2 2051.2L1130.9 2063.4L1135.0 2064.7L1139.0 2064.7L1143.1 2067.4L1147.1 2070.1L1149.8 2076.9L1153.9 2071.5L1157.9 2072.8L1160.6 2074.2L1164.7 2078.2L1168.7 2090.4L1172.8 2090.4L1176.8 2087.7L1182.2 2087.7L1186.3 2087.7L1190.3 2093.1L1194.4 2094.4L1198.4 2095.8L1202.4 2097.1L1209.2 2098.5L1211.9 2113.0L1215.9 2133.9L1220.0 2138.6L1225.4 2140.8L1229.4 2131.3L1232.1 2131.3L1234.8 2140.8L1238.9 2146.2L1242.9 2147.5L1247.0 2150.2L1251.0 2152.9L1255.1 2158.3L1260.5 2159.7L1264.5 2161.0L1268.6 2155.6L1272.6 2143.5L1276.7 2142.5L1280.4 2134.7L1280.7 2134.7L1288.5 2142.8L1291.2 2125.2L1293.9 2106.3L1297.9 2076.6L1300.6 2041.5L1304.7 2022.0L1307.4 2026.1L1312.8 2026.1L1318.2 2028.8L1320.9 2032.8L1329.0 2032.8L1331.7 2049.0L1334.4 2055.8L1338.4 2055.8L1341.1 2047.7L1350.6 2047.7L1353.3 2067.9L1356.0 2094.9L1360.0 2103.0L1364.1 2104.4L1368.1 2112.5L1372.2 2116.5L1377.6 2113.8L1381.6 2112.5L1384.3 2094.9L1388.4 2093.6L1392.4 2082.8L1396.5 2084.1L1400.5 2082.8L1404.6 2084.1L1408.6 2085.5L1411.3 2094.9L1414.0 2107.1L1418.0 2108.4L1420.7 2099.0L1426.1 2097.6L1430.2 2099.0L1434.2 2100.3L1436.9 2099.0L1439.6 2111.1L1442.3 2097.6L1446.4 2097.6L1451.8 2097.6L1454.5 2113.8L1458.5 2123.5L1463.9 2128.1L1473.4 2137.5L1476.1 2149.3L1482.8 2155.3L1488.2 2162.0L1493.6 2163.4L1499.0 2166.1L1507.1 2166.1L1515.2 2166.1L1520.6 2159.3L1526.0 2158.0L1531.4 2149.9L1536.8 2148.5L1540.9 2139.1L1547.6 2140.4L1555.7 2139.1L1559.8 2136.4L1562.4 2144.5L1566.5 2148.5L1571.9 2149.9L1575.9 2153.9L1582.7 2156.6L1588.1 2159.3L1593.5 2160.7L1598.9 2163.4L1601.6 2175.5L1605.6 2180.3L1611.0 2170.0L1615.6 2178.6L1617.8 2157.0L1620.5 2094.9L1621.8 1951.8L1624.5 1950.5L1627.2 1959.9L1631.3 2008.5L1634.0 2013.9L1635.0 2013.9L1638.0 2013.9L1638.2 2013.9L1640.4 2046.3L1643.1 2146.2L1645.8 2147.6L1649.8 2159.7L1653.9 2174.2L1656.6 2163.4L1662.0 2162.0L1667.4 2159.3L1672.8 2158.0L1675.5 2156.6L1678.2 2140.4L1682.2 2143.1L1687.6 2144.5L1690.3 2159.3L1691.7 2180.3L1693.0 2180.3L1694.9 2164.7L1699.8 2164.7L1705.2 2163.4L1710.6 2163.4L1713.3 2171.5L1718.7 2171.5L1721.4 2170.1L1726.8 2170.1L1737.6 2168.8L1741.6 2162.0L1748.4 2162.0L1752.4 2167.4L1756.5 2166.1L1759.2 2156.6L1764.6 2156.6L1768.6 2162.0L1771.3 2180.3L1774.0 2180.3L1776.7 2159.3L1780.7 2158.0L1786.1 2162.0L1791.5 2166.1L1796.9 2171.5L1805.0 2171.5L1810.4 2168.8L1813.1 2162.0L1818.5 2158.0L1823.9 2156.6L1829.3 2156.1L1834.7 2155.3L1840.1 2156.1L1845.5 2156.6L1848.2 2163.4L1850.9 2164.7L1859.0 2164.2L1867.1 2164.2L1872.5 2164.7L1875.2 2171.5L1879.3 2172.3L1888.7 2171.5L1896.8 2171.5L1902.2 2166.1L1907.6 2164.7L1915.7 2164.7L1923.8 2165.3L1926.5 2167.4L1927.8 2167.4" stroke="#D95319" stroke-width="5.2" fill="none" stroke-linejoin="round" stroke-linecap="round"/><text x="203.8" y="2245.2" font-size="52" fill="#262626" color="#262626" text-anchor="middle">0</text><text x="384.2" y="2245.2" font-size="52" fill="#262626" color="#262626" text-anchor="middle">100</text><text x="564.6" y="2245.2" font-size="52" fill="#262626" color="#262626" text-anchor="middle">200</text><text x="745.1" y="2245.2" font-size="52" fill="#262626" color="#262626" text-anchor="middle">300</text><text x="925.5" y="2245.2" font-size="52" fill="#262626" color="#262626" text-anchor="middle">400</text><text x="1105.9" y="2245.2" font-size="52" fill="#262626" color="#262626" text-anchor="middle">500</text><text x="1286.3" y="2245.2" font-size="52" fill="#262626" color="#262626" text-anchor="middle">600</text><text x="1466.7" y="2245.2" font-size="52" fill="#262626" color="#262626" text-anchor="middle">700</text><text x="1647.2" y="2245.2" font-size="52" fill="#262626" color="#262626" text-anchor="middle">800</text><text x="1827.6" y="2245.2" font-size="52" fill="#262626" color="#262626" text-anchor="middle">900</text><text x="2008.0" y="2245.2" font-size="52" fill="#262626" color="#262626" text-anchor="middle">1000</text><text x="181.2" y="2198.5" font-size="52" fill="#262626" color="#262626" text-anchor="end">0</text><text x="181.2" y="2101.0" font-size="52" fill="#262626" color="#262626" text-anchor="end">5</text><text x="181.2" y="2003.5" font-size="52" fill="#262626" color="#262626" text-anchor="end">10</text><text x="181.2" y="1906.1" font-size="52" fill="#262626" color="#262626" text-anchor="end">15</text><text x="181.2" y="1808.6" font-size="52" fill="#262626" color="#262626" text-anchor="end">20</text><text x="1104.9" y="2297.2" font-size="47.5" fill="#262626" color="#262626" text-anchor="middle">Day</text><text transform="translate(97.3 1987.8) rotate(-90)" font-size="47.8" fill="#262626" color="#262626" text-anchor="middle">Production</text><rect x="1597.8" y="1846.9" width="356" height="108" fill="#fff" stroke="#262626" stroke-width="3.6"/><path d="M1626.3 1877.9H1786.8" stroke="#000" stroke-width="4.8"/><path d="M1626.3 1923.9H1786.8" stroke="#D95319" stroke-width="4.6"/><text x="1800.3" y="1889.2" font-size="47.5" letter-spacing="1.1" fill="#000" color="#000">Target</text><text x="1800.3" y="1935.9" font-size="47.5" fill="#000" color="#000">GWO</text></g>
<g><path d="M219.2 2754.5V2737.0M219.2 2364.5V2382.0M399.7 2754.5V2737.0M399.7 2364.5V2382.0M580.3 2754.5V2737.0M580.3 2364.5V2382.0M760.8 2754.5V2737.0M760.8 2364.5V2382.0M941.4 2754.5V2737.0M941.4 2364.5V2382.0M1121.9 2754.5V2737.0M1121.9 2364.5V2382.0M1302.4 2754.5V2737.0M1302.4 2364.5V2382.0M1483.0 2754.5V2737.0M1483.0 2364.5V2382.0M1663.5 2754.5V2737.0M1663.5 2364.5V2382.0M1844.1 2754.5V2737.0M1844.1 2364.5V2382.0M2024.6 2754.5V2737.0M2024.6 2364.5V2382.0M219.2 2754.5H236.7M2024.6 2754.5H2007.1M219.2 2657.0H236.7M2024.6 2657.0H2007.1M219.2 2559.5H236.7M2024.6 2559.5H2007.1M219.2 2462.0H236.7M2024.6 2462.0H2007.1M219.2 2364.5H236.7M2024.6 2364.5H2007.1" stroke="#262626" stroke-width="4.2" fill="none"/><rect x="219.2" y="2364.5" width="1805.4" height="390.0" fill="none" stroke="#262626" stroke-width="4.4"/><path d="M221.0 2657.0L222.1 2559.5L228.9 2559.5L231.1 2647.2L233.6 2647.2L235.2 2635.0L246.5 2635.0L249.2 2641.7L251.9 2643.1L254.6 2626.9L261.4 2622.8L265.4 2617.4L269.5 2617.4L272.2 2635.0L276.2 2635.0L278.9 2651.2L283.0 2655.3L287.0 2641.7L291.1 2639.0L292.4 2620.1L296.5 2617.4L298.4 2606.6L301.9 2608.0L304.6 2614.7L307.3 2617.4L310.0 2635.0L314.0 2653.9L318.1 2668.8L320.8 2672.8L324.8 2674.2L327.5 2672.8L331.6 2671.5L334.3 2662.0L336.2 2641.7L339.7 2643.1L343.2 2660.7L346.4 2667.4L349.1 2672.8L351.8 2676.9L354.5 2705.2L357.2 2702.5L358.6 2658.0L361.3 2659.3L364.0 2671.5L368.0 2652.6L372.1 2653.9L374.8 2663.4L378.3 2635.0L381.5 2635.0L384.2 2593.1L388.3 2593.1L391.0 2599.9L395.1 2608.0L397.8 2635.0L401.8 2635.0L403.7 2656.6L407.2 2675.5L411.3 2680.9L414.0 2675.5L419.4 2675.5L422.1 2683.6L426.1 2686.3L431.5 2686.3L434.2 2689.0L436.9 2695.8L441.0 2698.5L446.4 2699.8L449.1 2691.7L453.1 2690.4L457.2 2693.1L461.2 2694.4L463.9 2679.6L466.6 2675.5L472.0 2675.5L474.7 2677.7L478.8 2676.9L481.5 2666.1L486.9 2664.7L489.6 2656.6L495.0 2653.9L497.7 2624.2L499.0 2610.7L501.7 2610.7L504.4 2629.6L505.8 2655.3L511.2 2656.6L515.2 2659.3L517.9 2678.2L522.0 2678.2L527.4 2678.2L530.1 2664.7L532.8 2655.3L535.5 2632.3L538.2 2624.2L542.2 2625.5L546.3 2630.9L549.0 2639.0L551.7 2645.8L555.8 2653.9L559.8 2663.4L565.2 2667.4L570.6 2667.4L574.3 2668.8L574.7 2671.5L577.0 2678.2L578.7 2675.5L579.7 2678.2L581.9 2614.7L585.1 2585.0L589.2 2585.0L591.9 2616.1L595.9 2645.8L598.6 2649.8L604.0 2649.8L606.7 2651.2L609.4 2655.3L611.6 2617.4L614.3 2617.4L616.2 2640.4L620.2 2640.4L623.0 2633.6L628.4 2635.0L631.1 2645.8L634.3 2648.5L636.5 2662.0L639.2 2675.5L641.9 2680.9L645.9 2679.6L650.0 2664.7L652.7 2659.3L656.7 2649.8L660.8 2641.7L666.2 2641.7L670.2 2645.8L671.6 2632.3L673.7 2632.3L675.6 2651.2L679.7 2656.6L682.4 2655.3L685.1 2656.6L687.8 2649.8L691.8 2645.8L693.7 2632.3L697.2 2632.3L699.9 2639.0L704.0 2641.7L708.0 2653.9L710.7 2662.0L713.4 2672.8L716.1 2678.2L718.8 2679.6L721.5 2675.5L724.2 2678.2L726.9 2679.6L729.6 2668.8L733.7 2667.4L736.4 2672.8L740.4 2670.1L744.5 2666.1L749.9 2666.1L753.9 2663.4L756.6 2663.4L759.3 2670.1L762.0 2679.6L767.4 2679.6L770.1 2683.6L772.8 2666.1L776.9 2667.4L779.6 2675.5L782.3 2679.6L785.0 2668.8L789.1 2667.4L793.1 2668.8L795.8 2671.5L798.5 2678.2L802.6 2680.9L805.3 2678.2L808.0 2662.0L810.7 2655.3L813.4 2645.8L817.4 2640.4L820.1 2636.3L824.2 2636.3L826.9 2639.0L830.9 2637.7L833.6 2640.4L835.8 2653.9L839.0 2658.0L841.7 2648.5L844.4 2645.8L845.8 2624.2L848.5 2613.4L852.5 2616.1L855.2 2608.0L859.3 2605.3L862.0 2598.5L866.0 2598.5L868.7 2602.6L870.9 2621.5L872.8 2641.7L875.5 2643.1L879.5 2643.1L884.9 2645.8L890.3 2648.5L895.7 2649.8L901.1 2649.8L906.5 2648.5L911.9 2647.1L917.3 2647.1L922.7 2645.8L925.4 2635.0L928.1 2632.3L932.2 2633.6L934.6 2640.4L934.9 2640.4L938.9 2641.7L940.0 2641.7L944.8 2645.8L946.7 2635.0L950.8 2630.9L953.5 2629.6L956.2 2621.5L961.6 2618.8L967.0 2618.8L971.0 2625.5L975.1 2628.2L979.1 2630.9L983.2 2626.9L987.2 2625.5L991.3 2635.0L996.7 2637.7L1002.1 2639.0L1007.5 2643.1L1010.2 2632.3L1015.6 2632.3L1018.3 2635.0L1022.4 2630.9L1029.1 2630.9L1033.2 2633.6L1037.2 2643.1L1041.3 2652.6L1045.3 2663.4L1048.0 2667.4L1050.7 2658.0L1054.8 2656.6L1058.8 2660.7L1061.5 2663.4L1064.2 2666.1L1066.9 2664.7L1069.6 2670.1L1072.3 2667.4L1077.7 2662.0L1080.4 2658.0L1084.5 2653.9L1087.2 2635.0L1089.9 2636.3L1091.2 2645.8L1093.9 2648.5L1098.0 2662.0L1100.7 2626.9L1104.7 2624.2L1108.8 2625.5L1110.7 2609.3L1114.2 2609.3L1118.2 2612.0L1120.9 2620.1L1125.0 2620.1L1127.7 2622.8L1130.4 2626.9L1133.1 2629.6L1137.1 2628.2L1139.8 2621.5L1145.2 2621.5L1147.9 2633.6L1152.0 2635.0L1156.0 2635.0L1160.1 2637.7L1164.1 2640.4L1166.8 2647.1L1170.9 2641.7L1175.0 2643.1L1177.7 2644.4L1181.7 2648.5L1185.8 2660.7L1189.8 2660.7L1193.9 2658.0L1199.3 2658.0L1203.3 2658.0L1207.4 2663.4L1211.4 2664.7L1215.5 2666.1L1219.5 2667.4L1226.3 2668.8L1229.0 2678.2L1233.0 2690.4L1237.1 2686.3L1242.5 2687.7L1246.5 2678.2L1249.2 2678.2L1251.9 2687.7L1256.0 2693.1L1260.0 2694.4L1264.1 2697.1L1268.1 2699.8L1272.2 2705.2L1277.6 2706.6L1281.6 2707.9L1285.7 2702.5L1289.7 2690.4L1293.8 2690.4L1297.5 2692.2L1297.8 2693.1L1305.6 2693.5L1308.3 2676.0L1311.0 2657.1L1315.1 2627.4L1317.8 2592.3L1321.8 2592.3L1324.5 2596.3L1329.9 2596.3L1335.3 2599.0L1338.0 2603.1L1346.1 2603.1L1348.8 2619.3L1351.5 2626.0L1355.6 2626.0L1358.3 2617.9L1367.7 2617.9L1370.4 2638.2L1373.1 2665.2L1377.2 2673.3L1381.2 2674.6L1385.3 2682.7L1389.3 2686.8L1394.7 2684.1L1398.8 2682.7L1401.5 2665.2L1405.5 2663.8L1409.6 2653.0L1413.7 2654.4L1417.7 2653.0L1421.8 2654.4L1425.8 2655.7L1428.5 2665.2L1431.2 2677.3L1435.3 2678.7L1438.0 2669.2L1443.4 2667.9L1447.4 2669.2L1451.5 2670.6L1454.2 2669.2L1456.9 2681.4L1459.6 2667.9L1463.6 2667.9L1469.0 2667.9L1471.7 2684.1L1475.8 2692.2L1481.2 2692.2L1490.6 2693.5L1493.3 2703.0L1500.1 2707.0L1505.5 2713.8L1510.9 2715.1L1516.3 2717.8L1524.4 2717.8L1532.5 2717.8L1537.9 2711.1L1543.3 2709.7L1548.7 2701.6L1554.1 2700.3L1558.1 2690.8L1564.9 2692.2L1573.0 2690.8L1577.1 2688.1L1579.8 2696.2L1583.8 2700.3L1589.2 2701.6L1593.3 2705.7L1600.0 2708.4L1605.4 2711.1L1610.8 2712.4L1616.2 2715.1L1618.9 2727.3L1623.0 2735.4L1628.4 2738.1L1633.0 2748.9L1635.1 2727.3L1637.8 2665.2L1639.2 2522.1L1641.9 2520.7L1644.6 2530.2L1648.6 2578.8L1651.3 2584.2L1652.4 2584.2L1655.4 2584.2L1655.6 2584.2L1657.8 2616.6L1660.5 2716.5L1663.2 2717.8L1667.2 2720.5L1671.3 2725.9L1674.0 2715.1L1679.4 2713.8L1684.8 2711.1L1690.2 2709.7L1692.9 2708.4L1695.6 2692.2L1699.6 2694.9L1705.0 2696.2L1707.7 2711.1L1709.1 2748.9L1710.4 2748.9L1712.3 2716.5L1717.2 2716.5L1722.6 2715.1L1728.0 2715.1L1730.7 2723.2L1736.1 2723.2L1738.8 2721.9L1744.2 2721.9L1755.0 2720.5L1759.0 2713.8L1765.8 2713.8L1769.8 2719.2L1773.9 2717.8L1776.6 2708.4L1782.0 2708.4L1786.0 2713.8L1788.7 2743.5L1791.4 2743.5L1794.1 2711.1L1798.2 2709.7L1803.6 2713.8L1809.0 2717.8L1814.4 2723.2L1822.5 2723.2L1827.9 2720.5L1830.6 2713.8L1836.0 2709.7L1841.4 2708.4L1846.8 2707.9L1852.2 2707.0L1857.6 2707.9L1863.0 2708.4L1865.7 2715.1L1868.4 2716.5L1876.5 2716.0L1884.6 2716.0L1890.0 2716.5L1892.7 2723.2L1896.8 2724.1L1906.2 2723.2L1914.3 2723.2L1919.7 2717.8L1925.1 2716.5L1933.2 2716.5L1941.3 2717.0L1944.0 2719.2L1945.4 2735.4" stroke="#000" stroke-width="5.4" fill="none" stroke-linejoin="round" stroke-linecap="round"/><path d="M219.6 2656.0L223.5 2610.2L227.0 2567.3L230.2 2596.6L232.9 2631.7L235.2 2641.9L246.5 2641.9L249.2 2648.4L251.9 2649.6L254.6 2634.3L261.4 2630.4L265.4 2625.3L269.5 2625.3L272.2 2641.9L276.2 2641.9L278.9 2657.3L283.0 2661.2L287.0 2648.4L291.1 2645.8L292.4 2627.8L296.5 2625.3L298.4 2615.0L301.9 2616.3L304.6 2622.7L307.3 2625.3L310.0 2641.9L314.0 2659.9L318.1 2674.0L320.8 2677.9L324.8 2679.1L327.5 2677.9L331.6 2676.6L334.3 2667.6L336.2 2648.4L339.7 2649.6L343.2 2666.3L346.4 2672.7L349.1 2677.9L351.8 2681.7L354.5 2708.6L357.2 2706.1L358.6 2663.8L361.3 2665.0L364.0 2676.6L368.0 2658.6L372.1 2659.9L374.8 2668.9L378.3 2641.9L381.5 2641.9L384.2 2602.2L388.3 2602.2L391.0 2608.6L395.1 2616.3L397.8 2641.9L401.8 2641.9L403.7 2662.5L407.2 2680.4L411.3 2685.6L414.0 2680.4L419.4 2680.4L422.1 2688.1L426.1 2690.7L431.5 2690.7L434.2 2693.3L436.9 2699.7L441.0 2702.2L446.4 2703.5L449.1 2695.8L453.1 2694.5L457.2 2697.1L461.2 2698.4L463.9 2684.3L466.6 2680.4L472.0 2680.4L474.7 2682.5L478.8 2681.7L481.5 2671.4L486.9 2670.2L489.6 2662.5L495.0 2659.9L497.7 2631.7L499.0 2618.9L501.7 2618.9L504.4 2636.8L505.8 2661.2L511.2 2662.5L515.2 2665.0L517.9 2683.0L522.0 2683.0L527.4 2683.0L530.1 2670.2L532.8 2661.2L535.5 2639.4L538.2 2631.7L542.2 2633.0L546.3 2638.1L549.0 2645.8L551.7 2652.2L555.8 2659.9L559.8 2668.9L565.2 2672.7L570.6 2672.7L574.3 2674.0L574.7 2676.6L577.0 2683.0L578.7 2680.4L579.7 2683.0L581.9 2622.7L585.1 2594.5L589.2 2594.5L591.9 2624.0L595.9 2652.2L598.6 2656.1L604.0 2656.1L606.7 2657.3L609.4 2661.2L611.6 2625.3L614.3 2625.3L616.2 2647.1L620.2 2647.1L623.0 2640.7L628.4 2641.9L631.1 2652.2L634.3 2654.8L636.5 2667.6L639.2 2680.4L641.9 2685.6L645.9 2684.3L650.0 2670.2L652.7 2665.0L656.7 2656.1L660.8 2648.4L666.2 2648.4L670.2 2652.2L671.6 2639.4L673.7 2639.4L675.6 2657.3L679.7 2662.5L682.4 2661.2L685.1 2662.5L687.8 2656.1L691.8 2652.2L693.7 2639.4L697.2 2639.4L699.9 2645.8L704.0 2648.4L708.0 2659.9L710.7 2667.6L713.4 2677.9L716.1 2683.0L718.8 2684.3L721.5 2680.4L724.2 2683.0L726.9 2684.3L729.6 2674.0L733.7 2672.7L736.4 2677.9L740.4 2675.3L744.5 2671.4L749.9 2671.4L753.9 2668.9L756.6 2668.9L759.3 2675.3L762.0 2684.3L767.4 2684.3L770.1 2688.1L772.8 2671.4L776.9 2672.7L779.6 2680.4L782.3 2684.3L785.0 2674.0L789.1 2672.7L793.1 2674.0L795.8 2676.6L798.5 2683.0L802.6 2685.6L805.3 2683.0L808.0 2667.6L810.7 2661.2L813.4 2652.2L817.4 2647.1L820.1 2643.2L824.2 2643.2L826.9 2645.8L830.9 2644.5L833.6 2647.1L835.8 2659.9L839.0 2663.8L841.7 2654.8L844.4 2652.2L845.8 2631.7L848.5 2621.4L852.5 2624.0L855.2 2616.3L859.3 2613.7L862.0 2607.3L866.0 2607.3L868.7 2611.2L870.9 2629.1L872.8 2648.4L875.5 2649.6L879.5 2649.6L884.9 2652.2L890.3 2654.8L895.7 2656.1L901.1 2656.1L906.5 2654.8L911.9 2653.5L917.3 2653.5L922.7 2652.2L925.4 2641.9L928.1 2639.4L932.2 2640.7L934.6 2647.1L934.9 2647.1L938.9 2648.4L940.0 2648.4L944.8 2652.2L946.7 2641.9L950.8 2638.1L953.5 2636.8L956.2 2629.1L961.6 2626.6L967.0 2626.6L971.0 2633.0L975.1 2635.5L979.1 2638.1L983.2 2634.3L987.2 2633.0L991.3 2641.9L996.7 2644.5L1002.1 2645.8L1007.5 2649.6L1010.2 2639.4L1015.6 2639.4L1018.3 2641.9L1022.4 2638.1L1029.1 2638.1L1033.2 2640.7L1037.2 2649.6L1041.3 2658.6L1045.3 2668.9L1048.0 2672.7L1050.7 2663.8L1054.8 2662.5L1058.8 2666.3L1061.5 2668.9L1064.2 2671.4L1066.9 2670.2L1069.6 2675.3L1072.3 2672.7L1077.7 2667.6L1080.4 2663.8L1084.5 2659.9L1087.2 2641.9L1089.9 2643.2L1091.2 2652.2L1093.9 2654.8L1098.0 2667.6L1100.7 2634.3L1104.7 2631.7L1108.8 2633.0L1110.7 2617.6L1114.2 2617.6L1118.2 2620.1L1120.9 2627.8L1125.0 2627.8L1127.7 2630.4L1130.4 2634.3L1133.1 2636.8L1137.1 2635.5L1139.8 2629.1L1145.2 2629.1L1147.9 2640.7L1152.0 2641.9L1156.0 2641.9L1160.1 2644.5L1164.1 2647.1L1166.8 2653.5L1170.9 2648.4L1175.0 2649.6L1177.7 2650.9L1181.7 2654.8L1185.8 2666.3L1189.8 2666.3L1193.9 2663.8L1199.3 2663.8L1203.3 2663.8L1207.4 2668.9L1211.4 2670.2L1215.5 2671.4L1219.5 2672.7L1226.3 2674.0L1229.0 2683.0L1233.0 2694.5L1237.1 2690.7L1242.5 2692.0L1246.5 2683.0L1249.2 2683.0L1251.9 2692.0L1256.0 2697.1L1260.0 2698.4L1264.1 2701.0L1268.1 2703.5L1272.2 2708.6L1277.6 2709.9L1281.6 2711.2L1285.7 2706.1L1289.7 2694.5L1293.8 2694.5L1297.5 2696.3L1297.8 2697.1L1305.6 2697.6L1308.3 2680.9L1311.0 2662.9L1315.1 2634.7L1317.8 2601.4L1321.8 2601.4L1324.5 2605.2L1329.9 2605.2L1335.3 2607.8L1338.0 2611.6L1346.1 2611.6L1348.8 2627.0L1351.5 2633.4L1355.6 2633.4L1358.3 2625.7L1367.7 2625.7L1370.4 2645.0L1373.1 2670.6L1377.2 2678.1L1381.2 2679.2L1385.3 2686.6L1389.3 2690.3L1394.7 2687.3L1398.8 2685.8L1401.5 2668.6L1405.5 2667.0L1409.6 2656.2L1413.7 2657.1L1417.7 2655.5L1421.8 2656.5L1425.8 2657.5L1428.5 2666.6L1431.2 2678.4L1435.3 2679.5L1438.0 2669.9L1443.4 2668.1L1447.4 2669.2L1451.5 2670.6L1454.2 2669.2L1456.9 2681.4L1459.6 2667.9L1463.6 2667.9L1469.0 2667.9L1471.7 2684.1L1475.8 2692.2L1481.2 2692.2L1490.6 2693.5L1493.3 2703.0L1500.1 2707.0L1505.5 2713.8L1510.9 2715.1L1516.3 2717.8L1524.4 2717.8L1532.5 2717.8L1537.9 2711.1L1543.3 2709.7L1548.7 2701.6L1554.1 2700.3L1558.1 2690.8L1564.9 2692.2L1573.0 2690.8L1577.1 2688.1L1579.8 2696.2L1583.8 2700.3L1589.2 2701.6L1593.3 2705.7L1600.0 2708.4L1605.4 2711.1L1610.8 2712.4L1616.2 2715.1L1618.9 2727.3L1623.0 2735.4L1628.4 2738.1L1633.0 2748.9L1635.1 2727.3L1637.8 2665.2L1639.2 2522.1L1641.9 2520.7L1644.6 2530.2L1648.6 2578.8L1651.3 2584.2L1652.4 2584.2L1655.4 2584.2L1655.6 2584.2L1657.8 2616.6L1660.5 2716.5L1663.2 2717.8L1667.2 2720.5L1671.3 2725.9L1674.0 2715.1L1679.4 2713.8L1684.8 2711.1L1690.2 2709.7L1692.9 2708.4L1695.6 2692.2L1699.6 2694.9L1705.0 2696.2L1707.7 2711.1L1709.1 2748.9L1710.4 2748.9L1712.3 2716.5L1717.2 2716.5L1722.6 2715.1L1728.0 2715.1L1730.7 2723.2L1736.1 2723.2L1738.8 2721.9L1744.2 2721.9L1755.0 2720.5L1759.0 2713.8L1765.8 2713.8L1769.8 2719.2L1773.9 2717.8L1776.6 2708.4L1782.0 2708.4L1786.0 2713.8L1788.7 2743.5L1791.4 2743.5L1794.1 2711.1L1798.2 2709.7L1803.6 2713.8L1809.0 2717.8L1814.4 2723.2L1822.5 2723.2L1827.9 2720.5L1830.6 2713.8L1836.0 2709.7L1841.4 2708.4L1846.8 2707.9L1852.2 2707.0L1857.6 2707.9L1863.0 2708.4L1865.7 2715.1L1868.4 2716.5L1876.5 2716.0L1884.6 2716.0L1890.0 2716.5L1892.7 2723.2L1896.8 2724.1L1906.2 2723.2L1914.3 2723.2L1919.7 2717.8L1925.1 2716.5L1933.2 2716.5L1941.3 2717.0L1944.0 2719.2L1945.4 2719.2" stroke="#D95319" stroke-width="5.2" fill="none" stroke-linejoin="round" stroke-linecap="round"/><text x="220.2" y="2815.5" font-size="52" fill="#262626" color="#262626" text-anchor="middle">0</text><text x="400.7" y="2815.5" font-size="52" fill="#262626" color="#262626" text-anchor="middle">100</text><text x="581.3" y="2815.5" font-size="52" fill="#262626" color="#262626" text-anchor="middle">200</text><text x="761.8" y="2815.5" font-size="52" fill="#262626" color="#262626" text-anchor="middle">300</text><text x="942.4" y="2815.5" font-size="52" fill="#262626" color="#262626" text-anchor="middle">400</text><text x="1122.9" y="2815.5" font-size="52" fill="#262626" color="#262626" text-anchor="middle">500</text><text x="1303.4" y="2815.5" font-size="52" fill="#262626" color="#262626" text-anchor="middle">600</text><text x="1484.0" y="2815.5" font-size="52" fill="#262626" color="#262626" text-anchor="middle">700</text><text x="1664.5" y="2815.5" font-size="52" fill="#262626" color="#262626" text-anchor="middle">800</text><text x="1845.1" y="2815.5" font-size="52" fill="#262626" color="#262626" text-anchor="middle">900</text><text x="2025.6" y="2815.5" font-size="52" fill="#262626" color="#262626" text-anchor="middle">1000</text><text x="197.6" y="2768.8" font-size="52" fill="#262626" color="#262626" text-anchor="end">0</text><text x="197.6" y="2671.3" font-size="52" fill="#262626" color="#262626" text-anchor="end">5</text><text x="197.6" y="2573.8" font-size="52" fill="#262626" color="#262626" text-anchor="end">10</text><text x="197.6" y="2476.3" font-size="52" fill="#262626" color="#262626" text-anchor="end">15</text><text x="197.6" y="2378.8" font-size="52" fill="#262626" color="#262626" text-anchor="end">20</text><text x="1121.9" y="2867.5" font-size="47.5" fill="#262626" color="#262626" text-anchor="middle">Day</text><text transform="translate(113.7 2558.0) rotate(-90)" font-size="47.8" fill="#262626" color="#262626" text-anchor="middle">Production</text><rect x="1614.2" y="2417.1" width="356" height="108" fill="#fff" stroke="#262626" stroke-width="3.6"/><path d="M1642.7 2448.1H1803.2" stroke="#000" stroke-width="4.8"/><path d="M1642.7 2494.1H1803.2" stroke="#D95319" stroke-width="4.6"/><text x="1816.7" y="2459.4" font-size="47.5" letter-spacing="1.1" fill="#000" color="#000">Target</text><text x="1816.7" y="2506.1" font-size="47.5" fill="#000" color="#000">AO</text></g>
<g><path d="M219.2 3317.5V3300.0M219.2 2927.5V2945.0M399.7 3317.5V3300.0M399.7 2927.5V2945.0M580.3 3317.5V3300.0M580.3 2927.5V2945.0M760.8 3317.5V3300.0M760.8 2927.5V2945.0M941.4 3317.5V3300.0M941.4 2927.5V2945.0M1121.9 3317.5V3300.0M1121.9 2927.5V2945.0M1302.4 3317.5V3300.0M1302.4 2927.5V2945.0M1483.0 3317.5V3300.0M1483.0 2927.5V2945.0M1663.5 3317.5V3300.0M1663.5 2927.5V2945.0M1844.1 3317.5V3300.0M1844.1 2927.5V2945.0M2024.6 3317.5V3300.0M2024.6 2927.5V2945.0M219.2 3317.5H236.7M2024.6 3317.5H2007.1M219.2 3220.0H236.7M2024.6 3220.0H2007.1M219.2 3122.5H236.7M2024.6 3122.5H2007.1M219.2 3025.0H236.7M2024.6 3025.0H2007.1M219.2 2927.5H236.7M2024.6 2927.5H2007.1" stroke="#262626" stroke-width="4.2" fill="none"/><rect x="219.2" y="2927.5" width="1805.4" height="390.0" fill="none" stroke="#262626" stroke-width="4.4"/><path d="M221.0 3220.0L222.1 3122.5L228.9 3122.5L231.1 3210.2L233.6 3210.2L235.2 3198.0L246.5 3198.0L249.2 3204.7L251.9 3206.1L254.6 3189.9L261.4 3185.8L265.4 3180.4L269.5 3180.4L272.2 3198.0L276.2 3198.0L278.9 3214.2L283.0 3218.3L287.0 3204.7L291.1 3202.0L292.4 3183.1L296.5 3180.4L298.4 3169.6L301.9 3171.0L304.6 3177.7L307.3 3180.4L310.0 3198.0L314.0 3216.9L318.1 3231.8L320.8 3235.8L324.8 3237.2L327.5 3235.8L331.6 3234.5L334.3 3225.0L336.2 3204.7L339.7 3206.1L343.2 3223.7L346.4 3230.4L349.1 3235.8L351.8 3239.9L354.5 3268.2L357.2 3265.5L358.6 3221.0L361.3 3222.3L364.0 3234.5L368.0 3215.6L372.1 3216.9L374.8 3226.4L378.3 3198.0L381.5 3198.0L384.2 3156.1L388.3 3156.1L391.0 3162.9L395.1 3171.0L397.8 3198.0L401.8 3198.0L403.7 3219.6L407.2 3238.5L411.3 3243.9L414.0 3238.5L419.4 3238.5L422.1 3246.6L426.1 3249.3L431.5 3249.3L434.2 3252.0L436.9 3258.8L441.0 3261.5L446.4 3262.8L449.1 3254.7L453.1 3253.4L457.2 3256.1L461.2 3257.4L463.9 3242.6L466.6 3238.5L472.0 3238.5L474.7 3240.7L478.8 3239.9L481.5 3229.1L486.9 3227.7L489.6 3219.6L495.0 3216.9L497.7 3187.2L499.0 3173.7L501.7 3173.7L504.4 3192.6L505.8 3218.3L511.2 3219.6L515.2 3222.3L517.9 3241.2L522.0 3241.2L527.4 3241.2L530.1 3227.7L532.8 3218.3L535.5 3195.3L538.2 3187.2L542.2 3188.5L546.3 3193.9L549.0 3202.0L551.7 3208.8L555.8 3216.9L559.8 3226.4L565.2 3230.4L570.6 3230.4L574.3 3231.8L574.7 3234.5L577.0 3241.2L578.7 3238.5L579.7 3241.2L581.9 3177.7L585.1 3148.0L589.2 3148.0L591.9 3179.1L595.9 3208.8L598.6 3212.8L604.0 3212.8L606.7 3214.2L609.4 3218.3L611.6 3180.4L614.3 3180.4L616.2 3203.4L620.2 3203.4L623.0 3196.6L628.4 3198.0L631.1 3208.8L634.3 3211.5L636.5 3225.0L639.2 3238.5L641.9 3243.9L645.9 3242.6L650.0 3227.7L652.7 3222.3L656.7 3212.8L660.8 3204.7L666.2 3204.7L670.2 3208.8L671.6 3195.3L673.7 3195.3L675.6 3214.2L679.7 3219.6L682.4 3218.3L685.1 3219.6L687.8 3212.8L691.8 3208.8L693.7 3195.3L697.2 3195.3L699.9 3202.0L704.0 3204.7L708.0 3216.9L710.7 3225.0L713.4 3235.8L716.1 3241.2L718.8 3242.6L721.5 3238.5L724.2 3241.2L726.9 3242.6L729.6 3231.8L733.7 3230.4L736.4 3235.8L740.4 3233.1L744.5 3229.1L749.9 3229.1L753.9 3226.4L756.6 3226.4L759.3 3233.1L762.0 3242.6L767.4 3242.6L770.1 3246.6L772.8 3229.1L776.9 3230.4L779.6 3238.5L782.3 3242.6L785.0 3231.8L789.1 3230.4L793.1 3231.8L795.8 3234.5L798.5 3241.2L802.6 3243.9L805.3 3241.2L808.0 3225.0L810.7 3218.3L813.4 3208.8L817.4 3203.4L820.1 3199.3L824.2 3199.3L826.9 3202.0L830.9 3200.7L833.6 3203.4L835.8 3216.9L839.0 3221.0L841.7 3211.5L844.4 3208.8L845.8 3187.2L848.5 3176.4L852.5 3179.1L855.2 3171.0L859.3 3168.3L862.0 3161.5L866.0 3161.5L868.7 3165.6L870.9 3184.5L872.8 3204.7L875.5 3206.1L879.5 3206.1L884.9 3208.8L890.3 3211.5L895.7 3212.8L901.1 3212.8L906.5 3211.5L911.9 3210.1L917.3 3210.1L922.7 3208.8L925.4 3198.0L928.1 3195.3L932.2 3196.6L934.6 3203.4L934.9 3203.4L938.9 3204.7L940.0 3204.7L944.8 3208.8L946.7 3198.0L950.8 3193.9L953.5 3192.6L956.2 3184.5L961.6 3181.8L967.0 3181.8L971.0 3188.5L975.1 3191.2L979.1 3193.9L983.2 3189.9L987.2 3188.5L991.3 3198.0L996.7 3200.7L1002.1 3202.0L1007.5 3206.1L1010.2 3195.3L1015.6 3195.3L1018.3 3198.0L1022.4 3193.9L1029.1 3193.9L1033.2 3196.6L1037.2 3206.1L1041.3 3215.6L1045.3 3226.4L1048.0 3230.4L1050.7 3221.0L1054.8 3219.6L1058.8 3223.7L1061.5 3226.4L1064.2 3229.1L1066.9 3227.7L1069.6 3233.1L1072.3 3230.4L1077.7 3225.0L1080.4 3221.0L1084.5 3216.9L1087.2 3198.0L1089.9 3199.3L1091.2 3208.8L1093.9 3211.5L1098.0 3225.0L1100.7 3189.9L1104.7 3187.2L1108.8 3188.5L1110.7 3172.3L1114.2 3172.3L1118.2 3175.0L1120.9 3183.1L1125.0 3183.1L1127.7 3185.8L1130.4 3189.9L1133.1 3192.6L1137.1 3191.2L1139.8 3184.5L1145.2 3184.5L1147.9 3196.6L1152.0 3198.0L1156.0 3198.0L1160.1 3200.7L1164.1 3203.4L1166.8 3210.1L1170.9 3204.7L1175.0 3206.1L1177.7 3207.4L1181.7 3211.5L1185.8 3223.7L1189.8 3223.7L1193.9 3221.0L1199.3 3221.0L1203.3 3221.0L1207.4 3226.4L1211.4 3227.7L1215.5 3229.1L1219.5 3230.4L1226.3 3231.8L1229.0 3241.2L1233.0 3253.4L1237.1 3249.3L1242.5 3250.7L1246.5 3241.2L1249.2 3241.2L1251.9 3250.7L1256.0 3256.1L1260.0 3257.4L1264.1 3260.1L1268.1 3262.8L1272.2 3268.2L1277.6 3269.6L1281.6 3270.9L1285.7 3265.5L1289.7 3253.4L1293.8 3253.4L1297.5 3255.2L1297.8 3256.1L1305.6 3256.5L1308.3 3239.0L1311.0 3220.1L1315.1 3190.4L1317.8 3155.3L1321.8 3155.3L1324.5 3159.3L1329.9 3159.3L1335.3 3162.0L1338.0 3166.1L1346.1 3166.1L1348.8 3182.3L1351.5 3189.0L1355.6 3189.0L1358.3 3180.9L1367.7 3180.9L1370.4 3201.2L1373.1 3228.2L1377.2 3236.3L1381.2 3237.6L1385.3 3245.7L1389.3 3249.8L1394.7 3247.1L1398.8 3245.7L1401.5 3228.2L1405.5 3226.8L1409.6 3216.0L1413.7 3217.4L1417.7 3216.0L1421.8 3217.4L1425.8 3218.7L1428.5 3228.2L1431.2 3240.3L1435.3 3241.7L1438.0 3232.2L1443.4 3230.9L1447.4 3232.2L1451.5 3233.6L1454.2 3232.2L1456.9 3244.4L1459.6 3230.9L1463.6 3230.9L1469.0 3230.9L1471.7 3247.1L1475.8 3255.2L1481.2 3255.2L1490.6 3256.5L1493.3 3266.0L1500.1 3270.0L1505.5 3276.8L1510.9 3278.1L1516.3 3280.8L1524.4 3280.8L1532.5 3280.8L1537.9 3274.1L1543.3 3272.7L1548.7 3264.6L1554.1 3263.3L1558.1 3253.8L1564.9 3255.2L1573.0 3253.8L1577.1 3251.1L1579.8 3259.2L1583.8 3263.3L1589.2 3264.6L1593.3 3268.7L1600.0 3271.4L1605.4 3274.1L1610.8 3275.4L1616.2 3278.1L1618.9 3290.3L1623.0 3298.4L1628.4 3301.1L1633.0 3311.9L1635.1 3290.3L1637.8 3228.2L1639.2 3085.1L1641.9 3083.7L1644.6 3093.2L1648.6 3141.8L1651.3 3147.2L1652.4 3147.2L1655.4 3147.2L1655.6 3147.2L1657.8 3179.6L1660.5 3279.5L1663.2 3280.8L1667.2 3283.5L1671.3 3288.9L1674.0 3278.1L1679.4 3276.8L1684.8 3274.1L1690.2 3272.7L1692.9 3271.4L1695.6 3255.2L1699.6 3257.9L1705.0 3259.2L1707.7 3274.1L1709.1 3311.9L1710.4 3311.9L1712.3 3279.5L1717.2 3279.5L1722.6 3278.1L1728.0 3278.1L1730.7 3286.2L1736.1 3286.2L1738.8 3284.9L1744.2 3284.9L1755.0 3283.5L1759.0 3276.8L1765.8 3276.8L1769.8 3282.2L1773.9 3280.8L1776.6 3271.4L1782.0 3271.4L1786.0 3276.8L1788.7 3306.5L1791.4 3306.5L1794.1 3274.1L1798.2 3272.7L1803.6 3276.8L1809.0 3280.8L1814.4 3286.2L1822.5 3286.2L1827.9 3283.5L1830.6 3276.8L1836.0 3272.7L1841.4 3271.4L1846.8 3270.9L1852.2 3270.0L1857.6 3270.9L1863.0 3271.4L1865.7 3278.1L1868.4 3279.5L1876.5 3279.0L1884.6 3279.0L1890.0 3279.5L1892.7 3286.2L1896.8 3287.1L1906.2 3286.2L1914.3 3286.2L1919.7 3280.8L1925.1 3279.5L1933.2 3279.5L1941.3 3280.0L1944.0 3282.2L1945.4 3298.4" stroke="#000" stroke-width="5.4" fill="none" stroke-linejoin="round" stroke-linecap="round"/><path d="M219.6 3219.0L223.5 3173.2L227.0 3130.3L230.2 3159.6L232.9 3194.7L235.2 3196.0L246.5 3196.0L249.2 3202.8L251.9 3204.1L254.6 3187.9L261.4 3183.9L265.4 3178.5L269.5 3178.5L272.2 3196.0L276.2 3196.0L278.9 3212.2L283.0 3216.3L287.0 3202.8L291.1 3200.1L292.4 3181.2L296.5 3178.5L298.4 3167.7L301.9 3169.0L304.6 3175.8L307.3 3178.5L310.0 3196.0L314.0 3215.0L318.1 3229.8L320.8 3233.9L324.8 3235.2L327.5 3233.9L331.6 3232.5L334.3 3223.1L336.2 3202.8L339.7 3204.1L343.2 3221.7L346.4 3228.5L349.1 3233.9L351.8 3237.9L354.5 3266.3L357.2 3263.6L358.6 3219.0L361.3 3220.4L364.0 3232.5L368.0 3213.6L372.1 3215.0L374.8 3224.4L378.3 3196.0L381.5 3196.0L384.2 3154.2L388.3 3154.2L391.0 3160.9L395.1 3169.0L397.8 3196.0L401.8 3196.0L403.7 3217.7L407.2 3236.6L411.3 3242.0L414.0 3236.6L419.4 3236.6L422.1 3244.7L426.1 3247.4L431.5 3247.4L434.2 3250.1L436.9 3256.8L441.0 3259.5L446.4 3260.9L449.1 3252.8L453.1 3251.4L457.2 3254.1L461.2 3255.5L463.9 3240.6L466.6 3236.6L472.0 3236.6L474.7 3238.7L478.8 3237.9L481.5 3227.1L486.9 3225.8L489.6 3217.7L495.0 3215.0L497.7 3185.2L499.0 3171.7L501.7 3171.7L504.4 3190.6L505.8 3216.3L511.2 3217.7L515.2 3220.4L517.9 3239.3L522.0 3239.3L527.4 3239.3L530.1 3225.8L532.8 3216.3L535.5 3193.3L538.2 3185.2L542.2 3186.6L546.3 3192.0L549.0 3200.1L551.7 3206.8L555.8 3215.0L559.8 3224.4L565.2 3228.5L570.6 3228.5L574.3 3229.8L574.7 3232.5L577.0 3239.3L578.7 3236.6L579.7 3239.3L581.9 3175.8L585.1 3146.1L589.2 3146.1L591.9 3177.1L595.9 3206.8L598.6 3210.9L604.0 3210.9L606.7 3212.2L609.4 3216.3L611.6 3178.5L614.3 3178.5L616.2 3201.4L620.2 3201.4L623.0 3194.7L628.4 3196.0L631.1 3206.8L634.3 3209.5L636.5 3223.1L639.2 3236.6L641.9 3242.0L645.9 3240.6L650.0 3225.8L652.7 3220.4L656.7 3210.9L660.8 3202.8L666.2 3202.8L670.2 3206.8L671.6 3193.3L673.7 3193.3L675.6 3212.2L679.7 3217.7L682.4 3216.3L685.1 3217.7L687.8 3210.9L691.8 3206.8L693.7 3193.3L697.2 3193.3L699.9 3200.1L704.0 3202.8L708.0 3215.0L710.7 3223.1L713.4 3233.9L716.1 3239.3L718.8 3240.6L721.5 3236.6L724.2 3239.3L726.9 3240.6L729.6 3229.8L733.7 3228.5L736.4 3233.9L740.4 3231.2L744.5 3227.1L749.9 3227.1L753.9 3224.4L756.6 3224.4L759.3 3231.2L762.0 3240.6L767.4 3240.6L770.1 3244.7L772.8 3227.1L776.9 3228.5L779.6 3236.6L782.3 3240.6L785.0 3229.8L789.1 3228.5L793.1 3229.8L795.8 3232.5L798.5 3239.3L802.6 3242.0L805.3 3239.3L808.0 3223.1L810.7 3216.3L813.4 3206.8L817.4 3201.4L820.1 3197.4L824.2 3197.4L826.9 3200.1L830.9 3198.7L833.6 3201.4L835.8 3215.0L839.0 3219.0L841.7 3209.5L844.4 3206.8L845.8 3185.2L848.5 3174.4L852.5 3177.1L855.2 3169.0L859.3 3166.3L862.0 3159.6L866.0 3159.6L868.7 3163.6L870.9 3182.5L872.8 3202.8L875.5 3204.1L879.5 3204.1L884.9 3206.8L890.3 3209.5L895.7 3210.9L901.1 3210.9L906.5 3209.5L911.9 3208.2L917.3 3208.2L922.7 3206.8L925.4 3196.0L928.1 3193.3L932.2 3194.7L934.6 3201.4L934.9 3201.4L938.9 3202.8L940.0 3202.8L944.8 3206.8L946.7 3196.0L950.8 3192.0L953.5 3190.6L956.2 3182.5L961.6 3179.8L967.0 3179.8L971.0 3186.6L975.1 3189.3L979.1 3192.0L983.2 3187.9L987.2 3186.6L991.3 3196.0L996.7 3198.7L1002.1 3200.1L1007.5 3204.1L1010.2 3193.3L1015.6 3193.3L1018.3 3196.0L1022.4 3192.0L1029.1 3192.0L1033.2 3194.7L1037.2 3204.1L1041.3 3213.6L1045.3 3224.4L1048.0 3228.5L1050.7 3219.0L1054.8 3217.7L1058.8 3221.7L1061.5 3224.4L1064.2 3227.1L1066.9 3225.8L1069.6 3231.2L1072.3 3228.5L1077.7 3223.1L1080.4 3219.0L1084.5 3215.0L1087.2 3196.0L1089.9 3197.4L1091.2 3206.8L1093.9 3209.5L1098.0 3223.1L1100.7 3187.9L1104.7 3185.2L1108.8 3186.6L1110.7 3170.4L1114.2 3170.4L1118.2 3173.1L1120.9 3181.2L1125.0 3181.2L1127.7 3183.9L1130.4 3187.9L1133.1 3190.6L1137.1 3189.3L1139.8 3182.5L1145.2 3182.5L1147.9 3194.7L1152.0 3196.0L1156.0 3196.0L1160.1 3198.7L1164.1 3201.4L1166.8 3208.2L1170.9 3202.8L1175.0 3204.1L1177.7 3205.5L1181.7 3209.5L1185.8 3221.7L1189.8 3221.7L1193.9 3219.0L1199.3 3219.0L1203.3 3219.0L1207.4 3224.4L1211.4 3225.8L1215.5 3227.1L1219.5 3228.5L1226.3 3229.8L1229.0 3239.3L1233.0 3251.4L1237.1 3247.4L1242.5 3248.7L1246.5 3239.3L1249.2 3239.3L1251.9 3248.7L1256.0 3254.1L1260.0 3255.5L1264.1 3258.2L1268.1 3260.9L1272.2 3266.3L1277.6 3267.6L1281.6 3269.0L1285.7 3263.6L1289.7 3251.4L1293.8 3251.4L1297.5 3253.2L1297.8 3254.1L1305.6 3254.6L1308.3 3237.0L1311.0 3218.1L1315.1 3188.4L1317.8 3153.3L1321.8 3153.3L1324.5 3157.4L1329.9 3157.4L1335.3 3160.1L1338.0 3164.1L1346.1 3164.1L1348.8 3180.3L1351.5 3187.1L1355.6 3187.1L1358.3 3179.0L1367.7 3179.0L1370.4 3199.2L1373.1 3226.2L1377.2 3234.3L1381.2 3235.7L1385.3 3243.8L1389.3 3247.8L1394.7 3245.1L1398.8 3243.8L1401.5 3226.2L1405.5 3224.9L1409.6 3214.1L1413.7 3215.4L1417.7 3214.1L1421.8 3215.4L1425.8 3216.8L1428.5 3226.2L1431.2 3238.4L1435.3 3239.7L1438.0 3230.3L1443.4 3228.9L1447.4 3230.3L1451.5 3231.6L1454.2 3230.3L1456.9 3242.4L1459.6 3228.9L1463.6 3228.9L1469.0 3228.9L1471.7 3245.1L1475.8 3253.2L1481.2 3253.2L1490.6 3254.6L1493.3 3264.0L1500.1 3268.1L1505.5 3274.8L1510.9 3276.2L1516.3 3278.9L1524.4 3278.9L1532.5 3278.9L1537.9 3272.1L1543.3 3270.8L1548.7 3262.7L1554.1 3261.3L1558.1 3251.9L1564.9 3253.2L1573.0 3251.9L1577.1 3249.2L1579.8 3257.3L1583.8 3261.3L1589.2 3262.7L1593.3 3266.7L1600.0 3269.4L1605.4 3272.1L1610.8 3273.5L1616.2 3276.2L1618.9 3288.3L1623.0 3296.4L1628.4 3299.1L1633.0 3310.0L1635.1 3288.3L1637.8 3226.2L1639.2 3083.1L1641.9 3081.8L1644.6 3091.2L1648.6 3139.8L1651.3 3145.2L1652.4 3145.2L1655.4 3145.2L1655.6 3145.2L1657.8 3177.6L1660.5 3277.5L1663.2 3278.9L1667.2 3281.6L1671.3 3287.0L1674.0 3276.2L1679.4 3274.8L1684.8 3272.1L1690.2 3270.8L1692.9 3269.4L1695.6 3253.2L1699.6 3255.9L1705.0 3257.3L1707.7 3272.1L1709.1 3310.0L1710.4 3310.0L1712.3 3277.5L1717.2 3277.5L1722.6 3276.2L1728.0 3276.2L1730.7 3284.3L1736.1 3284.3L1738.8 3282.9L1744.2 3282.9L1755.0 3281.6L1759.0 3274.8L1765.8 3274.8L1769.8 3280.2L1773.9 3278.9L1776.6 3269.4L1782.0 3269.4L1786.0 3274.8L1788.7 3304.6L1791.4 3304.6L1794.1 3272.1L1798.2 3270.8L1803.6 3274.8L1809.0 3278.9L1814.4 3284.3L1822.5 3284.3L1827.9 3281.6L1830.6 3274.8L1836.0 3270.8L1841.4 3269.4L1846.8 3268.9L1852.2 3268.1L1857.6 3268.9L1863.0 3269.4L1865.7 3276.2L1868.4 3277.5L1876.5 3277.0L1884.6 3277.0L1890.0 3277.5L1892.7 3284.3L1896.8 3285.1L1906.2 3284.3L1914.3 3284.3L1919.7 3278.9L1925.1 3277.5L1933.2 3277.5L1941.3 3278.1L1944.0 3280.2L1945.4 3280.2" stroke="#D95319" stroke-width="5.2" fill="none" stroke-linejoin="round" stroke-linecap="round"/><text x="220.2" y="3378.5" font-size="52" fill="#262626" color="#262626" text-anchor="middle">0</text><text x="400.7" y="3378.5" font-size="52" fill="#262626" color="#262626" text-anchor="middle">100</text><text x="581.3" y="3378.5" font-size="52" fill="#262626" color="#262626" text-anchor="middle">200</text><text x="761.8" y="3378.5" font-size="52" fill="#262626" color="#262626" text-anchor="middle">300</text><text x="942.4" y="3378.5" font-size="52" fill="#262626" color="#262626" text-anchor="middle">400</text><text x="1122.9" y="3378.5" font-size="52" fill="#262626" color="#262626" text-anchor="middle">500</text><text x="1303.4" y="3378.5" font-size="52" fill="#262626" color="#262626" text-anchor="middle">600</text><text x="1484.0" y="3378.5" font-size="52" fill="#262626" color="#262626" text-anchor="middle">700</text><text x="1664.5" y="3378.5" font-size="52" fill="#262626" color="#262626" text-anchor="middle">800</text><text x="1845.1" y="3378.5" font-size="52" fill="#262626" color="#262626" text-anchor="middle">900</text><text x="2025.6" y="3378.5" font-size="52" fill="#262626" color="#262626" text-anchor="middle">1000</text><text x="197.6" y="3331.8" font-size="52" fill="#262626" color="#262626" text-anchor="end">0</text><text x="197.6" y="3234.3" font-size="52" fill="#262626" color="#262626" text-anchor="end">5</text><text x="197.6" y="3136.8" font-size="52" fill="#262626" color="#262626" text-anchor="end">10</text><text x="197.6" y="3039.3" font-size="52" fill="#262626" color="#262626" text-anchor="end">15</text><text x="197.6" y="2941.8" font-size="52" fill="#262626" color="#262626" text-anchor="end">20</text><text x="1121.9" y="3430.5" font-size="47.5" fill="#262626" color="#262626" text-anchor="middle">Day</text><text transform="translate(113.7 3121.0) rotate(-90)" font-size="47.8" fill="#262626" color="#262626" text-anchor="middle">Production</text><rect x="1614.2" y="2980.1" width="356" height="108" fill="#fff" stroke="#262626" stroke-width="3.6"/><path d="M1642.7 3011.1H1803.2" stroke="#000" stroke-width="4.8"/><path d="M1642.7 3057.1H1803.2" stroke="#D95319" stroke-width="4.6"/><text x="1816.7" y="3022.4" font-size="47.5" letter-spacing="1.1" fill="#000" color="#000">Target</text><text x="1816.7" y="3069.1" font-size="47.5" fill="#000" color="#000">PSO</text></g>
<g><path d="M219.2 3881.3V3863.8M219.2 3490.6V3508.1M399.7 3881.3V3863.8M399.7 3490.6V3508.1M580.3 3881.3V3863.8M580.3 3490.6V3508.1M760.8 3881.3V3863.8M760.8 3490.6V3508.1M941.4 3881.3V3863.8M941.4 3490.6V3508.1M1121.9 3881.3V3863.8M1121.9 3490.6V3508.1M1302.4 3881.3V3863.8M1302.4 3490.6V3508.1M1483.0 3881.3V3863.8M1483.0 3490.6V3508.1M1663.5 3881.3V3863.8M1663.5 3490.6V3508.1M1844.1 3881.3V3863.8M1844.1 3490.6V3508.1M2024.6 3881.3V3863.8M2024.6 3490.6V3508.1M219.2 3881.3H236.7M2024.6 3881.3H2007.1M219.2 3783.6H236.7M2024.6 3783.6H2007.1M219.2 3685.9H236.7M2024.6 3685.9H2007.1M219.2 3588.3H236.7M2024.6 3588.3H2007.1M219.2 3490.6H236.7M2024.6 3490.6H2007.1" stroke="#262626" stroke-width="4.2" fill="none"/><rect x="219.2" y="3490.6" width="1805.4" height="390.7" fill="none" stroke="#262626" stroke-width="4.4"/><path d="M221.0 3783.6L222.1 3685.9L228.9 3685.9L231.1 3773.9L233.6 3773.9L235.2 3761.6L246.5 3761.6L249.2 3768.3L251.9 3769.7L254.6 3753.5L261.4 3749.4L265.4 3744.0L269.5 3744.0L272.2 3761.6L276.2 3761.6L278.9 3777.8L283.0 3781.9L287.0 3768.3L291.1 3765.6L292.4 3746.7L296.5 3744.0L298.4 3733.2L301.9 3734.5L304.6 3741.3L307.3 3744.0L310.0 3761.6L314.0 3780.5L318.1 3795.4L320.8 3799.5L324.8 3800.8L327.5 3799.5L331.6 3798.1L334.3 3788.6L336.2 3768.3L339.7 3769.7L343.2 3787.3L346.4 3794.0L349.1 3799.5L351.8 3803.5L354.5 3831.9L357.2 3829.2L358.6 3784.6L361.3 3785.9L364.0 3798.1L368.0 3779.2L372.1 3780.5L374.8 3790.0L378.3 3761.6L381.5 3761.6L384.2 3719.7L388.3 3719.7L391.0 3726.4L395.1 3734.5L397.8 3761.6L401.8 3761.6L403.7 3783.2L407.2 3802.2L411.3 3807.6L414.0 3802.2L419.4 3802.2L422.1 3810.3L426.1 3813.0L431.5 3813.0L434.2 3815.7L436.9 3822.5L441.0 3825.2L446.4 3826.5L449.1 3818.4L453.1 3817.0L457.2 3819.7L461.2 3821.1L463.9 3806.2L466.6 3802.2L472.0 3802.2L474.7 3804.3L478.8 3803.5L481.5 3792.7L486.9 3791.3L489.6 3783.2L495.0 3780.5L497.7 3750.8L499.0 3737.2L501.7 3737.2L504.4 3756.2L505.8 3781.9L511.2 3783.2L515.2 3785.9L517.9 3804.9L522.0 3804.9L527.4 3804.9L530.1 3791.3L532.8 3781.9L535.5 3758.9L538.2 3750.8L542.2 3752.1L546.3 3757.5L549.0 3765.6L551.7 3772.4L555.8 3780.5L559.8 3790.0L565.2 3794.0L570.6 3794.0L574.3 3795.4L574.7 3798.1L577.0 3804.9L578.7 3802.2L579.7 3804.9L581.9 3741.3L585.1 3711.5L589.2 3711.5L591.9 3742.6L595.9 3772.4L598.6 3776.5L604.0 3776.5L606.7 3777.8L609.4 3781.9L611.6 3744.0L614.3 3744.0L616.2 3767.0L620.2 3767.0L623.0 3760.2L628.4 3761.6L631.1 3772.4L634.3 3775.1L636.5 3788.6L639.2 3802.2L641.9 3807.6L645.9 3806.2L650.0 3791.3L652.7 3785.9L656.7 3776.5L660.8 3768.3L666.2 3768.3L670.2 3772.4L671.6 3758.9L673.7 3758.9L675.6 3777.8L679.7 3783.2L682.4 3781.9L685.1 3783.2L687.8 3776.5L691.8 3772.4L693.7 3758.9L697.2 3758.9L699.9 3765.6L704.0 3768.3L708.0 3780.5L710.7 3788.6L713.4 3799.5L716.1 3804.9L718.8 3806.2L721.5 3802.2L724.2 3804.9L726.9 3806.2L729.6 3795.4L733.7 3794.0L736.4 3799.5L740.4 3796.8L744.5 3792.7L749.9 3792.7L753.9 3790.0L756.6 3790.0L759.3 3796.8L762.0 3806.2L767.4 3806.2L770.1 3810.3L772.8 3792.7L776.9 3794.0L779.6 3802.2L782.3 3806.2L785.0 3795.4L789.1 3794.0L793.1 3795.4L795.8 3798.1L798.5 3804.9L802.6 3807.6L805.3 3804.9L808.0 3788.6L810.7 3781.9L813.4 3772.4L817.4 3767.0L820.1 3762.9L824.2 3762.9L826.9 3765.6L830.9 3764.3L833.6 3767.0L835.8 3780.5L839.0 3784.6L841.7 3775.1L844.4 3772.4L845.8 3750.8L848.5 3739.9L852.5 3742.6L855.2 3734.5L859.3 3731.8L862.0 3725.1L866.0 3725.1L868.7 3729.1L870.9 3748.1L872.8 3768.3L875.5 3769.7L879.5 3769.7L884.9 3772.4L890.3 3775.1L895.7 3776.5L901.1 3776.5L906.5 3775.1L911.9 3773.8L917.3 3773.8L922.7 3772.4L925.4 3761.6L928.1 3758.9L932.2 3760.2L934.6 3767.0L934.9 3767.0L938.9 3768.3L940.0 3768.3L944.8 3772.4L946.7 3761.6L950.8 3757.5L953.5 3756.2L956.2 3748.1L961.6 3745.4L967.0 3745.4L971.0 3752.1L975.1 3754.8L979.1 3757.5L983.2 3753.5L987.2 3752.1L991.3 3761.6L996.7 3764.3L1002.1 3765.6L1007.5 3769.7L1010.2 3758.9L1015.6 3758.9L1018.3 3761.6L1022.4 3757.5L1029.1 3757.5L1033.2 3760.2L1037.2 3769.7L1041.3 3779.2L1045.3 3790.0L1048.0 3794.0L1050.7 3784.6L1054.8 3783.2L1058.8 3787.3L1061.5 3790.0L1064.2 3792.7L1066.9 3791.3L1069.6 3796.8L1072.3 3794.0L1077.7 3788.6L1080.4 3784.6L1084.5 3780.5L1087.2 3761.6L1089.9 3762.9L1091.2 3772.4L1093.9 3775.1L1098.0 3788.6L1100.7 3753.5L1104.7 3750.8L1108.8 3752.1L1110.7 3735.9L1114.2 3735.9L1118.2 3738.6L1120.9 3746.7L1125.0 3746.7L1127.7 3749.4L1130.4 3753.5L1133.1 3756.2L1137.1 3754.8L1139.8 3748.1L1145.2 3748.1L1147.9 3760.2L1152.0 3761.6L1156.0 3761.6L1160.1 3764.3L1164.1 3767.0L1166.8 3773.8L1170.9 3768.3L1175.0 3769.7L1177.7 3771.1L1181.7 3775.1L1185.8 3787.3L1189.8 3787.3L1193.9 3784.6L1199.3 3784.6L1203.3 3784.6L1207.4 3790.0L1211.4 3791.3L1215.5 3792.7L1219.5 3794.0L1226.3 3795.4L1229.0 3804.9L1233.0 3817.0L1237.1 3813.0L1242.5 3814.3L1246.5 3804.9L1249.2 3804.9L1251.9 3814.3L1256.0 3819.7L1260.0 3821.1L1264.1 3823.8L1268.1 3826.5L1272.2 3831.9L1277.6 3833.3L1281.6 3834.6L1285.7 3829.2L1289.7 3817.0L1293.8 3817.0L1297.5 3818.9L1297.8 3819.7L1305.6 3820.2L1308.3 3802.6L1311.0 3783.7L1315.1 3754.0L1317.8 3718.8L1321.8 3718.8L1324.5 3722.8L1329.9 3722.8L1335.3 3725.5L1338.0 3729.6L1346.1 3729.6L1348.8 3745.8L1351.5 3752.6L1355.6 3752.6L1358.3 3744.5L1367.7 3744.5L1370.4 3764.8L1373.1 3791.8L1377.2 3799.9L1381.2 3801.3L1385.3 3809.4L1389.3 3813.5L1394.7 3810.8L1398.8 3809.4L1401.5 3791.8L1405.5 3790.5L1409.6 3779.7L1413.7 3781.0L1417.7 3779.7L1421.8 3781.0L1425.8 3782.4L1428.5 3791.8L1431.2 3804.0L1435.3 3805.4L1438.0 3795.9L1443.4 3794.5L1447.4 3795.9L1451.5 3797.2L1454.2 3795.9L1456.9 3808.1L1459.6 3794.5L1463.6 3794.5L1469.0 3794.5L1471.7 3810.8L1475.8 3818.9L1481.2 3818.9L1490.6 3820.2L1493.3 3829.7L1500.1 3833.8L1505.5 3840.5L1510.9 3841.9L1516.3 3844.6L1524.4 3844.6L1532.5 3844.6L1537.9 3837.8L1543.3 3836.5L1548.7 3828.3L1554.1 3827.0L1558.1 3817.5L1564.9 3818.9L1573.0 3817.5L1577.1 3814.8L1579.8 3822.9L1583.8 3827.0L1589.2 3828.3L1593.3 3832.4L1600.0 3835.1L1605.4 3837.8L1610.8 3839.2L1616.2 3841.9L1618.9 3854.0L1623.0 3862.2L1628.4 3864.9L1633.0 3875.7L1635.1 3854.0L1637.8 3791.8L1639.2 3648.4L1641.9 3647.1L1644.6 3656.6L1648.6 3705.3L1651.3 3710.7L1652.4 3710.7L1655.4 3710.7L1655.6 3710.7L1657.8 3743.1L1660.5 3843.2L1663.2 3844.6L1667.2 3847.3L1671.3 3852.7L1674.0 3841.9L1679.4 3840.5L1684.8 3837.8L1690.2 3836.5L1692.9 3835.1L1695.6 3818.9L1699.6 3821.6L1705.0 3822.9L1707.7 3837.8L1709.1 3875.7L1710.4 3875.7L1712.3 3843.2L1717.2 3843.2L1722.6 3841.9L1728.0 3841.9L1730.7 3850.0L1736.1 3850.0L1738.8 3848.6L1744.2 3848.6L1755.0 3847.3L1759.0 3840.5L1765.8 3840.5L1769.8 3845.9L1773.9 3844.6L1776.6 3835.1L1782.0 3835.1L1786.0 3840.5L1788.7 3870.3L1791.4 3870.3L1794.1 3837.8L1798.2 3836.5L1803.6 3840.5L1809.0 3844.6L1814.4 3850.0L1822.5 3850.0L1827.9 3847.3L1830.6 3840.5L1836.0 3836.5L1841.4 3835.1L1846.8 3834.6L1852.2 3833.8L1857.6 3834.6L1863.0 3835.1L1865.7 3841.9L1868.4 3843.2L1876.5 3842.7L1884.6 3842.7L1890.0 3843.2L1892.7 3850.0L1896.8 3850.8L1906.2 3850.0L1914.3 3850.0L1919.7 3844.6L1925.1 3843.2L1933.2 3843.2L1941.3 3843.8L1944.0 3845.9L1945.4 3862.2" stroke="#000" stroke-width="5.4" fill="none" stroke-linejoin="round" stroke-linecap="round"/><path d="M219.4 3772.3L222.1 3769.6L224.8 3775.0L226.2 3812.7L227.5 3772.3L230.2 3769.6L232.9 3783.0L235.6 3753.4L238.3 3758.8L241.0 3766.9L243.7 3801.9L247.8 3803.3L251.8 3806.0L254.5 3807.3L257.2 3799.2L261.3 3797.9L264.0 3795.2L266.7 3777.7L269.4 3775.0L274.8 3775.0L278.8 3777.7L281.5 3799.2L285.6 3814.1L289.6 3812.7L293.7 3804.6L297.7 3796.5L301.8 3791.1L304.5 3777.7L307.2 3753.4L309.3 3746.6L312.6 3766.9L316.6 3791.1L319.3 3812.7L323.4 3837.0L326.1 3835.7L328.8 3831.6L332.8 3828.9L335.5 3826.2L338.2 3812.7L340.9 3812.7L343.6 3816.8L346.3 3823.5L349.0 3826.2L351.7 3828.9L354.4 3837.0L357.1 3847.8L359.8 3828.9L362.5 3823.5L365.2 3826.2L367.9 3828.9L370.6 3818.1L374.6 3819.5L377.3 3822.2L380.0 3812.7L384.1 3801.9L388.1 3781.7L393.5 3785.7L396.2 3734.5L398.9 3748.0L401.6 3756.1L404.3 3785.7L407.0 3807.3L409.7 3831.6L413.8 3834.3L417.8 3831.6L421.9 3833.0L425.9 3837.0L430.0 3838.4L434.0 3839.7L438.1 3843.8L442.1 3845.1L446.2 3846.5L450.2 3845.1L454.3 3841.1L458.3 3841.1L462.4 3841.1L465.1 3846.5L467.8 3834.3L470.5 3831.6L474.5 3831.6L478.6 3830.3L482.6 3827.6L486.7 3826.2L490.7 3820.8L494.8 3819.5L497.4 3815.4L500.1 3799.2L502.0 3793.8L504.2 3801.9L506.9 3815.4L509.6 3796.5L512.3 3785.7L515.0 3812.7L517.7 3831.6L521.7 3833.0L525.8 3833.0L531.2 3831.6L533.9 3820.8L536.6 3812.7L539.3 3801.9L544.7 3800.6L547.9 3791.1L549.5 3784.4L552.8 3799.2L556.8 3812.7L560.9 3820.8L566.3 3823.5L571.7 3824.9L574.0 3826.2L577.1 3826.2L578.1 3828.9L580.8 3830.3L583.5 3807.3L587.5 3783.0L590.2 3776.3L592.9 3758.8L594.3 3748.0L597.0 3753.4L599.7 3769.6L602.4 3780.4L605.1 3801.9L607.8 3814.1L611.8 3816.8L614.5 3801.9L616.4 3796.5L618.6 3807.3L621.3 3801.9L624.0 3791.1L625.3 3779.0L627.2 3785.7L629.4 3801.9L633.4 3808.7L636.1 3812.7L638.8 3826.2L642.9 3831.6L646.9 3834.3L651.0 3828.9L655.0 3823.5L659.1 3816.8L663.1 3811.4L667.2 3810.0L671.2 3808.7L673.9 3807.3L676.6 3812.7L679.3 3818.1L683.4 3820.8L688.8 3818.1L692.8 3812.7L695.5 3807.3L699.6 3804.6L703.6 3807.3L707.7 3808.7L710.4 3812.7L713.0 3820.8L717.1 3831.6L721.1 3834.3L725.2 3833.0L729.2 3833.0L733.3 3826.2L737.3 3828.9L742.7 3826.2L748.1 3824.9L753.5 3823.5L757.6 3823.5L760.3 3830.3L764.3 3833.0L768.4 3834.3L772.4 3837.0L776.5 3827.6L780.5 3828.9L784.6 3833.0L788.6 3827.6L794.0 3826.2L799.4 3828.9L803.5 3833.0L807.5 3833.0L810.2 3823.5L814.3 3815.4L818.3 3810.0L822.4 3806.0L826.4 3806.0L831.8 3804.6L835.9 3811.4L838.6 3818.1L842.6 3815.4L846.7 3812.7L850.7 3799.2L854.8 3793.8L857.4 3780.4L858.8 3750.7L861.5 3749.3L864.2 3753.4L866.9 3742.6L870.1 3738.5L872.3 3750.7L875.0 3760.1L879.0 3769.6L881.7 3788.4L884.4 3808.7L888.5 3811.4L893.9 3812.7L899.3 3814.1L904.7 3814.1L910.1 3814.1L915.5 3812.7L920.9 3812.7L926.3 3810.0L930.3 3803.3L932.7 3806.0L934.4 3804.6L935.4 3806.0L940.8 3806.0L944.8 3808.7L947.5 3811.4L950.2 3804.6L955.6 3801.9L958.3 3795.2L962.4 3788.4L966.4 3783.0L969.1 3764.2L973.2 3762.8L977.2 3766.9L979.9 3775.0L982.6 3787.1L986.7 3791.1L990.7 3795.2L994.8 3793.8L998.8 3796.5L1002.9 3804.6L1006.9 3807.3L1011.0 3808.7L1015.0 3803.3L1019.1 3803.3L1023.1 3799.2L1027.2 3796.5L1032.6 3797.9L1036.6 3799.2L1040.7 3807.3L1044.7 3818.1L1048.8 3823.5L1052.8 3820.8L1056.9 3819.5L1060.9 3822.2L1065.0 3824.9L1069.0 3826.2L1073.0 3827.6L1077.1 3826.2L1081.1 3822.2L1085.2 3815.4L1089.2 3807.3L1093.3 3812.7L1097.3 3818.1L1101.4 3819.5L1104.1 3801.9L1108.1 3800.6L1110.8 3796.5L1113.5 3777.7L1116.2 3772.3L1118.9 3769.6L1121.6 3748.0L1125.7 3746.6L1129.7 3753.4L1132.4 3764.2L1136.5 3772.3L1140.5 3777.7L1145.9 3785.7L1150.0 3781.7L1152.7 3780.4L1155.4 3787.1L1158.1 3799.2L1162.1 3804.6L1166.2 3807.3L1170.2 3810.0L1174.3 3808.7L1178.3 3810.0L1182.4 3812.7L1186.4 3816.8L1190.5 3819.5L1195.9 3819.5L1199.9 3819.5L1205.3 3820.8L1210.7 3823.5L1216.1 3824.9L1221.5 3826.2L1226.9 3826.2L1229.6 3834.3L1233.6 3839.7L1237.7 3838.4L1243.1 3837.0L1246.3 3834.3L1249.8 3833.0L1252.5 3839.7L1256.6 3841.1L1262.0 3842.4L1267.4 3845.1L1271.4 3847.8L1276.8 3849.2L1282.2 3850.5L1286.3 3847.8L1290.3 3842.4L1294.0 3842.4L1294.4 3841.1L1298.1 3841.1L1303.5 3841.1L1308.9 3842.4L1312.9 3828.9L1317.0 3810.0L1321.0 3785.7L1323.7 3781.7L1326.4 3791.1L1327.8 3753.4L1329.9 3729.1L1331.8 3726.4L1335.9 3727.7L1339.9 3730.4L1344.0 3731.8L1348.0 3739.9L1352.1 3750.7L1356.1 3752.0L1358.8 3758.8L1361.5 3772.3L1364.2 3777.7L1366.9 3772.3L1369.6 3766.9L1372.3 3780.4L1375.0 3796.5L1377.7 3812.7L1380.4 3826.2L1384.5 3831.6L1388.5 3834.3L1392.6 3837.0L1396.6 3837.0L1400.7 3835.7L1403.4 3827.6L1407.4 3824.9L1411.5 3819.5L1415.5 3816.8L1419.6 3816.8L1425.0 3818.1L1429.0 3820.8L1431.7 3830.3L1435.7 3831.6L1439.8 3828.9L1442.5 3826.2L1446.5 3826.2L1450.6 3827.6L1454.6 3828.9L1457.3 3831.6L1460.0 3827.6L1462.7 3826.2L1465.4 3826.2L1468.1 3826.2L1470.8 3831.6L1473.5 3838.4L1478.9 3841.1L1484.3 3841.1L1489.7 3842.4L1493.8 3845.1L1499.2 3850.5L1504.6 3853.2L1510.0 3855.9L1516.7 3857.3L1523.5 3858.6L1530.2 3858.6L1535.6 3857.3L1541.0 3854.6L1546.4 3851.9L1551.8 3847.8L1557.2 3842.4L1562.6 3841.1L1570.7 3841.1L1577.4 3839.7L1581.5 3843.8L1586.9 3847.8L1592.3 3849.2L1597.7 3851.9L1603.1 3853.2L1608.5 3854.6L1613.9 3855.9L1617.9 3860.0L1620.6 3865.4L1626.0 3869.4L1630.6 3874.8L1634.1 3877.5L1636.8 3869.4L1639.5 3828.9L1642.2 3769.6L1643.6 3748.0L1645.7 3756.1L1647.6 3715.6L1649.0 3664.3L1651.3 3707.5L1651.7 3667.0L1653.0 3707.5L1654.0 3711.5L1655.7 3711.5L1659.4 3712.9L1662.1 3801.9L1664.8 3828.9L1668.9 3853.2L1672.9 3862.7L1677.0 3858.6L1682.4 3855.9L1687.8 3854.6L1693.2 3853.2L1697.2 3845.1L1701.3 3843.8L1705.3 3845.1L1708.0 3853.2L1710.7 3872.1L1712.6 3869.4L1714.8 3855.9L1718.8 3858.6L1724.2 3855.9L1729.6 3855.9L1733.7 3861.3L1737.7 3864.0L1743.1 3861.3L1748.5 3860.0L1753.9 3860.0L1759.3 3855.9L1763.4 3854.6L1767.4 3855.9L1771.5 3857.3L1775.5 3855.9L1779.6 3853.2L1783.6 3851.9L1786.3 3861.3L1789.0 3872.1L1791.7 3869.4L1795.7 3855.9L1799.8 3853.2L1803.8 3854.6L1809.2 3857.3L1814.6 3861.3L1820.0 3862.7L1825.4 3862.7L1829.5 3858.6L1833.5 3854.6L1838.9 3851.9L1844.3 3850.5L1851.1 3850.5L1857.8 3850.0L1863.2 3851.9L1865.9 3855.9L1871.3 3857.3L1879.4 3855.9L1887.5 3855.9L1891.6 3858.6L1894.3 3862.7L1902.4 3862.7L1911.8 3862.7L1918.6 3860.0L1922.6 3857.3L1930.7 3855.9L1938.8 3855.9L1944.2 3855.9L1945.5 3858.6" stroke="#D95319" stroke-width="5.2" fill="none" stroke-linejoin="round" stroke-linecap="round"/><text x="220.2" y="3942.3" font-size="52" fill="#262626" color="#262626" text-anchor="middle">0</text><text x="400.7" y="3942.3" font-size="52" fill="#262626" color="#262626" text-anchor="middle">100</text><text x="581.3" y="3942.3" font-size="52" fill="#262626" color="#262626" text-anchor="middle">200</text><text x="761.8" y="3942.3" font-size="52" fill="#262626" color="#262626" text-anchor="middle">300</text><text x="942.4" y="3942.3" font-size="52" fill="#262626" color="#262626" text-anchor="middle">400</text><text x="1122.9" y="3942.3" font-size="52" fill="#262626" color="#262626" text-anchor="middle">500</text><text x="1303.4" y="3942.3" font-size="52" fill="#262626" color="#262626" text-anchor="middle">600</text><text x="1484.0" y="3942.3" font-size="52" fill="#262626" color="#262626" text-anchor="middle">700</text><text x="1664.5" y="3942.3" font-size="52" fill="#262626" color="#262626" text-anchor="middle">800</text><text x="1845.1" y="3942.3" font-size="52" fill="#262626" color="#262626" text-anchor="middle">900</text><text x="2025.6" y="3942.3" font-size="52" fill="#262626" color="#262626" text-anchor="middle">1000</text><text x="197.6" y="3895.6" font-size="52" fill="#262626" color="#262626" text-anchor="end">0</text><text x="197.6" y="3797.9" font-size="52" fill="#262626" color="#262626" text-anchor="end">5</text><text x="197.6" y="3700.2" font-size="52" fill="#262626" color="#262626" text-anchor="end">10</text><text x="197.6" y="3602.6" font-size="52" fill="#262626" color="#262626" text-anchor="end">15</text><text x="197.6" y="3504.9" font-size="52" fill="#262626" color="#262626" text-anchor="end">20</text><text x="1121.9" y="3994.3" font-size="47.5" fill="#262626" color="#262626" text-anchor="middle">Day</text><text transform="translate(113.7 3684.4) rotate(-90)" font-size="47.8" fill="#262626" color="#262626" text-anchor="middle">Production</text><rect x="1614.2" y="3543.2" width="356" height="108" fill="#fff" stroke="#262626" stroke-width="3.6"/><path d="M1642.7 3574.2H1803.2" stroke="#000" stroke-width="4.8"/><path d="M1642.7 3620.2H1803.2" stroke="#D95319" stroke-width="4.6"/><text x="1816.7" y="3585.5" font-size="47.5" letter-spacing="1.1" fill="#000" color="#000">Target</text><text x="1816.7" y="3632.2" font-size="47.5" fill="#000" color="#000">SCA</text></g>
</svg></body></html>
